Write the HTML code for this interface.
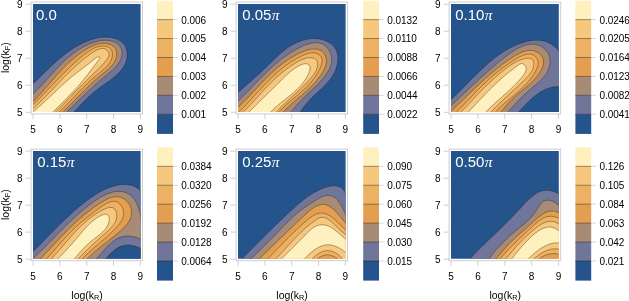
<!DOCTYPE html>
<html><head><meta charset="utf-8"><title>contours</title>
<style>html,body{margin:0;padding:0;background:#fff;}body{width:629px;height:301px;overflow:hidden;}svg{display:block;}text{font-family:"Liberation Sans",sans-serif;}svg{will-change:transform;}</style></head><body>
<svg width="629" height="301" viewBox="0 0 629 301">
<rect width="629" height="301" fill="#fff"/>
<defs>
<clipPath id="c1"><rect x="33" y="4" width="107.6" height="108"/></clipPath>
<clipPath id="c2"><rect x="238" y="4" width="107.6" height="108"/></clipPath>
<clipPath id="c3"><rect x="451" y="4" width="107.8" height="108"/></clipPath>
<clipPath id="c4"><rect x="33" y="151" width="107.6" height="107.8"/></clipPath>
<clipPath id="c5"><rect x="238" y="151" width="107.6" height="107.8"/></clipPath>
<clipPath id="c6"><rect x="451" y="151" width="107.8" height="107.8"/></clipPath>
</defs>
<g id="panel1">
<rect x="31.1" y="2.1" width="111.4" height="111.8" fill="#fff" stroke="#cdcdcd" stroke-width="1"/>
<g clip-path="url(#c1)">
<rect x="32" y="3" width="109.6" height="110" fill="#25548c"/>
<path d="M19.84 95.04C20.67 94.39 21.52 93.74 22.35 93.08C23.17 92.43 23.99 91.76 24.79 91.09C25.6 90.43 26.39 89.75 27.18 89.07C27.96 88.4 28.74 87.71 29.51 87.03C30.28 86.34 31.04 85.65 31.8 84.96C32.56 84.26 33.3 83.57 34.05 82.87C34.79 82.17 35.53 81.47 36.26 80.77C37 80.07 37.73 79.36 38.45 78.66C39.18 77.95 39.9 77.25 40.62 76.54C41.34 75.84 42.05 75.13 42.77 74.43C43.49 73.73 44.2 73.02 44.92 72.32C45.63 71.62 46.34 70.92 47.06 70.22C47.77 69.52 48.49 68.83 49.21 68.13C49.92 67.44 50.64 66.75 51.37 66.06C52.09 65.38 52.81 64.69 53.54 64.02C54.27 63.34 55.01 62.67 55.74 62C56.48 61.33 57.23 60.67 57.98 60.01C58.73 59.35 59.48 58.7 60.24 58.06C61.01 57.41 61.78 56.78 62.55 56.15C63.33 55.52 64.12 54.89 64.92 54.28C65.71 53.67 66.52 53.06 67.33 52.46C68.15 51.87 68.97 51.28 69.81 50.7C70.65 50.12 71.5 49.55 72.36 49C73.22 48.44 74.1 47.89 74.98 47.35C75.87 46.82 76.77 46.29 77.69 45.78C78.6 45.27 79.53 44.76 80.48 44.28C81.42 43.79 82.38 43.32 83.35 42.86C84.32 42.41 85.31 41.97 86.3 41.55C87.29 41.14 88.29 40.74 89.3 40.37C90.31 40.01 91.32 39.66 92.35 39.34C93.37 39.03 94.39 38.74 95.42 38.49C96.45 38.23 97.49 38.01 98.52 37.82C99.55 37.63 100.59 37.48 101.62 37.37C102.65 37.26 103.68 37.18 104.71 37.15C105.74 37.13 106.76 37.14 107.78 37.2C108.8 37.26 109.81 37.36 110.82 37.52C111.82 37.68 112.82 37.88 113.8 38.14C114.77 38.4 115.73 38.71 116.66 39.07C117.57 39.44 118.47 39.85 119.31 40.33C120.13 40.8 120.93 41.32 121.66 41.91C122.37 42.49 123.04 43.13 123.62 43.83C124.2 44.52 124.7 45.28 125.14 46.06C125.58 46.85 125.94 47.7 126.23 48.56C126.52 49.42 126.74 50.33 126.9 51.24C127.06 52.16 127.15 53.11 127.17 54.06C127.2 55.01 127.15 55.98 127.05 56.94C126.95 57.9 126.78 58.88 126.56 59.83C126.33 60.78 126.05 61.73 125.7 62.65C125.36 63.57 124.96 64.48 124.5 65.35C124.05 66.23 123.54 67.08 122.98 67.9C122.43 68.73 121.82 69.53 121.18 70.31C120.54 71.1 119.84 71.86 119.13 72.6C118.41 73.35 117.66 74.08 116.88 74.78C116.1 75.5 115.29 76.19 114.47 76.87C113.64 77.56 112.78 78.23 111.92 78.89C111.06 79.55 110.18 80.2 109.3 80.85C108.41 81.49 107.52 82.12 106.62 82.76C105.73 83.39 104.83 84.01 103.94 84.64C103.05 85.26 102.17 85.88 101.29 86.51C100.42 87.13 99.56 87.75 98.71 88.39C97.87 89.01 97.05 89.64 96.24 90.28C95.44 90.91 94.65 91.55 93.88 92.2C93.11 92.84 92.36 93.49 91.61 94.15C90.87 94.8 90.15 95.47 89.43 96.13C88.71 96.8 88 97.48 87.3 98.16C86.59 98.84 85.9 99.53 85.21 100.22C84.52 100.92 83.83 101.62 83.15 102.33C82.46 103.03 81.78 103.75 81.1 104.47C80.41 105.19 79.73 105.91 79.05 106.64C78.37 107.37 77.69 108.1 77 108.83C76.31 109.56 75.62 110.3 74.93 111.04C74.23 111.77 73.53 112.51 72.83 113.25C72.12 113.99 71.41 114.73 70.69 115.46C69.97 116.2 69.24 116.94 68.51 117.67C67.77 118.4 67.02 119.13 66.26 119.86C65.5 120.59 64.72 121.3 63.95 122.03L10 130Z" fill="#70769a" stroke="rgba(40,25,10,0.75)" stroke-width="0.5"/>
<path d="M19.7 104.83C20.57 104.22 21.46 103.63 22.32 103.01C23.17 102.39 24.02 101.76 24.85 101.12C25.68 100.48 26.49 99.83 27.3 99.16C28.1 98.5 28.89 97.83 29.68 97.15C30.46 96.47 31.23 95.78 31.99 95.08C32.75 94.38 33.5 93.68 34.24 92.96C34.98 92.25 35.72 91.53 36.44 90.81C37.17 90.08 37.89 89.35 38.6 88.61C39.31 87.88 40.02 87.14 40.72 86.39C41.42 85.65 42.11 84.9 42.8 84.15C43.49 83.4 44.18 82.65 44.87 81.89C45.55 81.14 46.23 80.38 46.91 79.63C47.59 78.87 48.27 78.11 48.94 77.35C49.62 76.6 50.3 75.84 50.98 75.09C51.65 74.33 52.33 73.58 53.01 72.83C53.69 72.08 54.37 71.33 55.06 70.58C55.74 69.84 56.43 69.1 57.12 68.36C57.81 67.63 58.51 66.89 59.21 66.17C59.91 65.44 60.61 64.72 61.33 64.01C62.04 63.29 62.76 62.59 63.48 61.89C64.21 61.19 64.95 60.5 65.69 59.81C66.43 59.13 67.18 58.46 67.94 57.79C68.71 57.13 69.48 56.48 70.26 55.83C71.04 55.19 71.84 54.56 72.64 53.94C73.45 53.32 74.27 52.71 75.1 52.11C75.93 51.52 76.78 50.93 77.64 50.37C78.5 49.8 79.37 49.24 80.26 48.71C81.15 48.17 82.06 47.64 82.98 47.13C83.9 46.62 84.84 46.13 85.8 45.66C86.76 45.18 87.73 44.72 88.72 44.29C89.71 43.86 90.71 43.45 91.72 43.07C92.73 42.69 93.76 42.34 94.78 42.02C95.81 41.71 96.84 41.42 97.88 41.19C98.91 40.95 99.95 40.75 100.98 40.6C102.01 40.45 103.04 40.35 104.07 40.3C105.09 40.25 106.11 40.25 107.12 40.32C108.13 40.38 109.13 40.5 110.11 40.69C111.09 40.88 112.06 41.13 112.99 41.45C113.91 41.76 114.82 42.14 115.66 42.6C116.48 43.04 117.28 43.55 117.99 44.14C118.67 44.72 119.32 45.37 119.84 46.08C120.37 46.78 120.8 47.58 121.13 48.39C121.46 49.22 121.69 50.11 121.84 51C121.98 51.91 122.03 52.86 121.99 53.79C121.96 54.73 121.82 55.7 121.62 56.63C121.41 57.58 121.12 58.52 120.75 59.42C120.38 60.33 119.93 61.22 119.42 62.07C118.91 62.93 118.32 63.76 117.69 64.57C117.06 65.38 116.37 66.17 115.65 66.94C114.92 67.71 114.15 68.46 113.37 69.2C112.58 69.95 111.75 70.67 110.92 71.39C110.09 72.11 109.24 72.81 108.4 73.51C107.55 74.22 106.7 74.91 105.86 75.61C105.03 76.3 104.2 76.99 103.38 77.68C102.56 78.37 101.76 79.06 100.95 79.75C100.16 80.43 99.36 81.12 98.58 81.8C97.79 82.48 97.02 83.17 96.25 83.85C95.48 84.53 94.72 85.21 93.96 85.89C93.2 86.57 92.45 87.25 91.71 87.93C90.96 88.61 90.22 89.29 89.49 89.97C88.75 90.65 88.02 91.33 87.29 92.01C86.57 92.69 85.85 93.37 85.13 94.05C84.41 94.74 83.69 95.42 82.98 96.11C82.26 96.79 81.55 97.48 80.84 98.17C80.13 98.86 79.42 99.55 78.71 100.24C78 100.94 77.3 101.63 76.59 102.33C75.88 103.03 75.17 103.73 74.47 104.43C73.76 105.14 73.05 105.85 72.34 106.56C71.63 107.27 70.92 107.98 70.2 108.7C69.49 109.42 68.77 110.14 68.05 110.87C67.33 111.6 66.61 112.33 65.88 113.06C65.16 113.8 64.43 114.54 63.69 115.28C62.96 116.03 62.22 116.78 61.47 117.54C60.73 118.3 59.98 119.06 59.22 119.82C58.46 120.6 57.7 121.37 56.94 122.15L10 130Z" fill="#a78b75" stroke="rgba(40,25,10,0.75)" stroke-width="0.5"/>
<path d="M19.74 113.21C20.58 112.56 21.44 111.93 22.27 111.27C23.1 110.62 23.91 109.96 24.72 109.28C25.52 108.61 26.31 107.93 27.09 107.25C27.87 106.56 28.64 105.87 29.4 105.17C30.15 104.47 30.9 103.76 31.64 103.05C32.37 102.34 33.1 101.62 33.82 100.9C34.54 100.18 35.25 99.45 35.95 98.72C36.66 97.99 37.35 97.25 38.04 96.51C38.73 95.77 39.41 95.03 40.09 94.28C40.77 93.54 41.44 92.79 42.11 92.03C42.78 91.28 43.44 90.53 44.1 89.77C44.76 89.02 45.42 88.26 46.08 87.5C46.73 86.74 47.39 85.98 48.04 85.22C48.69 84.46 49.34 83.7 50 82.94C50.65 82.18 51.3 81.43 51.95 80.67C52.61 79.91 53.26 79.15 53.92 78.4C54.58 77.64 55.23 76.89 55.9 76.14C56.56 75.39 57.22 74.64 57.89 73.9C58.56 73.15 59.24 72.41 59.92 71.67C60.6 70.93 61.28 70.2 61.97 69.47C62.67 68.74 63.36 68.01 64.07 67.29C64.78 66.57 65.49 65.86 66.21 65.15C66.93 64.44 67.66 63.74 68.4 63.04C69.14 62.35 69.89 61.65 70.65 60.97C71.42 60.29 72.19 59.61 72.97 58.95C73.75 58.28 74.55 57.62 75.36 56.97C76.17 56.32 76.99 55.68 77.82 55.05C78.66 54.41 79.51 53.79 80.37 53.18C81.23 52.56 82.11 51.96 83 51.37C83.9 50.77 84.81 50.19 85.74 49.63C86.66 49.06 87.6 48.51 88.55 47.99C89.5 47.48 90.46 46.98 91.43 46.52C92.39 46.07 93.37 45.64 94.35 45.26C95.32 44.89 96.31 44.55 97.29 44.27C98.27 44 99.26 43.76 100.25 43.6C101.22 43.44 102.21 43.33 103.18 43.3C104.15 43.27 105.13 43.3 106.09 43.42C107.05 43.54 108.02 43.74 108.94 44.02C109.86 44.31 110.79 44.67 111.63 45.13C112.46 45.57 113.27 46.1 113.94 46.73C114.59 47.33 115.19 48.04 115.62 48.81C116.06 49.57 116.37 50.44 116.57 51.31C116.77 52.2 116.84 53.15 116.83 54.08C116.81 55.03 116.68 56.01 116.47 56.96C116.26 57.91 115.95 58.86 115.57 59.77C115.19 60.68 114.72 61.56 114.2 62.41C113.67 63.26 113.07 64.07 112.43 64.86C111.79 65.66 111.08 66.43 110.35 67.17C109.62 67.93 108.84 68.65 108.04 69.37C107.25 70.09 106.41 70.79 105.58 71.48C104.75 72.18 103.89 72.86 103.04 73.55C102.2 74.23 101.35 74.91 100.51 75.59C99.68 76.28 98.86 76.96 98.05 77.65C97.25 78.34 96.45 79.03 95.66 79.72C94.88 80.41 94.1 81.11 93.33 81.8C92.57 82.5 91.81 83.2 91.07 83.9C90.32 84.59 89.58 85.29 88.85 86C88.12 86.7 87.39 87.4 86.67 88.11C85.95 88.81 85.24 89.52 84.53 90.22C83.82 90.93 83.12 91.64 82.42 92.34C81.72 93.05 81.02 93.76 80.33 94.47C79.63 95.18 78.94 95.89 78.25 96.6C77.56 97.31 76.87 98.02 76.18 98.73C75.49 99.44 74.8 100.15 74.11 100.86C73.42 101.57 72.73 102.28 72.03 102.99C71.34 103.71 70.64 104.42 69.94 105.12C69.24 105.84 68.54 106.55 67.83 107.25C67.12 107.96 66.4 108.67 65.68 109.38C64.96 110.09 64.24 110.79 63.5 111.5C62.77 112.2 62.03 112.91 61.28 113.61C60.53 114.32 59.77 115.02 59.01 115.72C58.24 116.42 57.46 117.12 56.67 117.82C55.88 118.52 55.08 119.21 54.27 119.9C53.46 120.6 52.63 121.29 51.8 121.98L10 130Z" fill="#e39f4f" stroke="rgba(40,25,10,0.75)" stroke-width="0.5"/>
<path d="M19.78 116.5C20.6 115.82 21.42 115.14 22.23 114.46C23.04 113.78 23.84 113.09 24.63 112.4C25.42 111.72 26.2 111.03 26.97 110.33C27.75 109.64 28.51 108.94 29.27 108.24C30.03 107.55 30.78 106.84 31.53 106.14C32.27 105.44 33.01 104.73 33.75 104.02C34.48 103.32 35.21 102.61 35.93 101.9C36.65 101.19 37.37 100.47 38.09 99.76C38.8 99.04 39.51 98.33 40.22 97.61C40.92 96.89 41.62 96.18 42.33 95.46C43.02 94.74 43.72 94.02 44.42 93.29C45.11 92.57 45.8 91.85 46.49 91.13C47.18 90.41 47.87 89.68 48.56 88.96C49.25 88.24 49.94 87.51 50.63 86.79C51.31 86.07 52 85.34 52.69 84.62C53.38 83.9 54.06 83.17 54.75 82.45C55.44 81.73 56.13 81 56.83 80.28C57.52 79.56 58.21 78.84 58.91 78.12C59.61 77.4 60.31 76.68 61.01 75.96C61.71 75.24 62.42 74.52 63.13 73.81C63.84 73.09 64.55 72.38 65.27 71.66C65.99 70.95 66.72 70.24 67.44 69.53C68.17 68.82 68.91 68.11 69.65 67.4C70.39 66.7 71.13 65.99 71.88 65.29C72.64 64.59 73.4 63.89 74.16 63.2C74.93 62.5 75.71 61.8 76.49 61.11C77.27 60.42 78.06 59.73 78.86 59.05C79.66 58.36 80.47 57.68 81.28 57C82.1 56.32 82.93 55.64 83.76 54.97C84.6 54.3 85.44 53.62 86.3 52.98C87.16 52.34 88.02 51.7 88.91 51.1C89.79 50.51 90.67 49.93 91.58 49.41C92.48 48.89 93.4 48.4 94.33 47.97C95.26 47.55 96.2 47.17 97.16 46.88C98.11 46.58 99.09 46.34 100.07 46.19C101.05 46.04 102.07 45.97 103.07 45.99C104.06 46.02 105.09 46.12 106.04 46.34C106.97 46.56 107.91 46.85 108.71 47.29C109.47 47.7 110.19 48.23 110.74 48.86C111.28 49.48 111.69 50.23 111.98 51.01C112.27 51.8 112.42 52.68 112.48 53.55C112.55 54.45 112.48 55.4 112.33 56.32C112.18 57.25 111.92 58.2 111.59 59.1C111.26 60.02 110.83 60.9 110.34 61.76C109.85 62.62 109.28 63.44 108.66 64.24C108.04 65.05 107.35 65.82 106.64 66.58C105.91 67.34 105.14 68.08 104.35 68.8C103.56 69.54 102.72 70.25 101.89 70.95C101.05 71.66 100.19 72.35 99.33 73.05C98.48 73.74 97.62 74.43 96.77 75.13C95.93 75.82 95.1 76.51 94.28 77.21C93.46 77.9 92.66 78.6 91.87 79.3C91.08 80 90.3 80.7 89.53 81.41C88.76 82.11 88.01 82.81 87.25 83.52C86.51 84.22 85.77 84.93 85.04 85.64C84.31 86.35 83.59 87.06 82.87 87.77C82.16 88.48 81.45 89.2 80.75 89.91C80.05 90.62 79.35 91.34 78.66 92.05C77.97 92.77 77.28 93.48 76.59 94.2C75.9 94.91 75.22 95.63 74.54 96.35C73.86 97.07 73.18 97.78 72.5 98.5C71.82 99.22 71.14 99.94 70.46 100.65C69.78 101.37 69.09 102.09 68.41 102.8C67.72 103.52 67.04 104.24 66.34 104.96C65.65 105.67 64.96 106.39 64.26 107.1C63.55 107.82 62.85 108.54 62.14 109.25C61.42 109.96 60.7 110.68 59.97 111.39C59.24 112.1 58.51 112.81 57.76 113.52C57.02 114.23 56.26 114.94 55.5 115.65C54.73 116.36 53.95 117.07 53.17 117.77C52.37 118.47 51.57 119.18 50.76 119.88C49.94 120.58 49.11 121.28 48.28 121.98L10 130Z" fill="#edb163" stroke="rgba(40,25,10,0.75)" stroke-width="0.5"/>
<path d="M19.66 119.47C20.54 118.82 21.42 118.18 22.28 117.52C23.13 116.87 23.98 116.21 24.81 115.55C25.65 114.89 26.47 114.22 27.28 113.55C28.09 112.88 28.89 112.21 29.69 111.53C30.48 110.86 31.26 110.18 32.03 109.5C32.8 108.82 33.57 108.13 34.33 107.44C35.08 106.75 35.83 106.06 36.57 105.37C37.31 104.68 38.04 103.98 38.77 103.28C39.5 102.58 40.22 101.88 40.93 101.18C41.65 100.48 42.36 99.78 43.06 99.07C43.77 98.36 44.47 97.65 45.17 96.95C45.86 96.24 46.56 95.53 47.25 94.81C47.94 94.1 48.63 93.39 49.31 92.67C50 91.96 50.68 91.24 51.37 90.53C52.05 89.81 52.73 89.09 53.41 88.38C54.1 87.66 54.78 86.94 55.46 86.22C56.14 85.5 56.83 84.78 57.51 84.07C58.2 83.35 58.88 82.63 59.57 81.91C60.26 81.19 60.95 80.47 61.65 79.75C62.34 79.04 63.04 78.32 63.74 77.6C64.44 76.88 65.15 76.17 65.86 75.45C66.58 74.74 67.29 74.02 68.01 73.31C68.74 72.6 69.47 71.89 70.2 71.18C70.94 70.47 71.68 69.76 72.43 69.05C73.18 68.34 73.94 67.64 74.71 66.94C75.47 66.23 76.25 65.53 77.03 64.83C77.82 64.13 78.61 63.43 79.42 62.74C80.22 62.04 81.04 61.35 81.86 60.66C82.69 59.97 83.53 59.29 84.38 58.6C85.23 57.92 86.09 57.24 86.96 56.56C87.84 55.88 88.73 55.2 89.63 54.54C90.53 53.88 91.43 53.22 92.35 52.6C93.25 52 94.17 51.4 95.09 50.88C95.98 50.38 96.88 49.89 97.79 49.51C98.65 49.15 99.53 48.83 100.4 48.65C101.23 48.47 102.07 48.36 102.88 48.41C103.66 48.47 104.45 48.63 105.17 48.95C105.91 49.29 106.64 49.8 107.23 50.41C107.86 51.06 108.49 51.9 108.8 52.76C109.11 53.61 109.26 54.64 109.11 55.55C108.94 56.51 108.32 57.47 107.76 58.37C107.18 59.32 106.39 60.2 105.67 61.07C104.97 61.94 104.24 62.77 103.52 63.59C102.8 64.4 102.08 65.18 101.35 65.95C100.63 66.72 99.9 67.46 99.17 68.2C98.45 68.93 97.72 69.64 96.99 70.35C96.26 71.06 95.53 71.76 94.81 72.45C94.08 73.15 93.35 73.84 92.63 74.54C91.9 75.23 91.18 75.93 90.46 76.63C89.73 77.33 89.01 78.04 88.3 78.74C87.58 79.45 86.86 80.16 86.14 80.88C85.42 81.59 84.71 82.31 83.99 83.03C83.27 83.75 82.56 84.47 81.85 85.19C81.13 85.91 80.42 86.64 79.7 87.37C78.99 88.1 78.28 88.82 77.57 89.55C76.85 90.29 76.14 91.02 75.43 91.75C74.72 92.48 74 93.22 73.29 93.95C72.58 94.68 71.87 95.42 71.15 96.15C70.44 96.89 69.73 97.62 69.01 98.36C68.3 99.09 67.58 99.82 66.87 100.56C66.15 101.29 65.44 102.02 64.72 102.75C64 103.49 63.29 104.22 62.57 104.95C61.85 105.67 61.13 106.4 60.41 107.13C59.68 107.85 58.96 108.58 58.24 109.3C57.51 110.02 56.79 110.74 56.06 111.46C55.33 112.17 54.6 112.89 53.87 113.6C53.14 114.31 52.4 115.02 51.67 115.72C50.93 116.43 50.2 117.13 49.45 117.83C48.71 118.53 47.97 119.22 47.23 119.91C46.48 120.6 45.73 121.28 44.98 121.97L10 130Z" fill="#f5c87d" stroke="rgba(40,25,10,0.75)" stroke-width="0.5"/>
<path d="M18.92 122.29C19.78 121.73 20.63 121.19 21.48 120.62C22.32 120.05 23.16 119.47 23.99 118.88C24.82 118.29 25.64 117.7 26.45 117.09C27.27 116.49 28.08 115.87 28.88 115.25C29.69 114.63 30.48 114 31.28 113.36C32.07 112.72 32.86 112.08 33.64 111.43C34.42 110.78 35.2 110.12 35.97 109.46C36.74 108.8 37.51 108.13 38.28 107.46C39.04 106.79 39.8 106.11 40.56 105.43C41.32 104.75 42.08 104.06 42.83 103.38C43.58 102.69 44.33 102 45.08 101.3C45.83 100.61 46.57 99.91 47.32 99.21C48.06 98.52 48.8 97.82 49.55 97.12C50.29 96.42 51.03 95.72 51.77 95.01C52.51 94.31 53.25 93.61 53.99 92.91C54.73 92.21 55.47 91.51 56.21 90.81C56.95 90.11 57.69 89.41 58.43 88.72C59.17 88.02 59.92 87.33 60.66 86.64C61.41 85.95 62.15 85.26 62.9 84.58C63.65 83.89 64.4 83.21 65.16 82.54C65.91 81.86 66.67 81.19 67.43 80.52C68.19 79.86 68.95 79.19 69.72 78.54C70.48 77.89 71.25 77.24 72.03 76.59C72.8 75.95 73.58 75.32 74.37 74.69C75.15 74.06 75.94 73.44 76.74 72.82C77.53 72.2 78.33 71.59 79.13 70.97C79.93 70.36 80.73 69.75 81.54 69.14C82.35 68.53 83.16 67.92 83.97 67.31C84.78 66.69 85.6 66.07 86.41 65.45C87.23 64.83 88.05 64.2 88.87 63.57C89.69 62.93 90.52 62.29 91.34 61.64C92.16 60.99 92.97 60.3 93.81 59.66C94.64 59.02 95.45 58.27 96.34 57.79C97.17 57.34 98.38 56.64 98.97 56.82C99.41 56.96 99.83 57.56 99.83 58.05C99.84 58.74 98.74 59.74 98.14 60.59C97.5 61.48 96.77 62.37 96.1 63.25C95.45 64.11 94.81 64.97 94.18 65.83C93.56 66.67 92.95 67.51 92.34 68.34C91.74 69.17 91.14 69.98 90.54 70.8C89.95 71.61 89.36 72.41 88.76 73.21C88.16 74.01 87.56 74.8 86.95 75.59C86.34 76.38 85.72 77.16 85.1 77.94C84.47 78.72 83.84 79.5 83.2 80.27C82.56 81.04 81.91 81.81 81.25 82.58C80.6 83.35 79.94 84.11 79.27 84.87C78.6 85.63 77.93 86.38 77.25 87.14C76.58 87.89 75.89 88.64 75.2 89.39C74.52 90.13 73.82 90.88 73.12 91.62C72.43 92.36 71.73 93.1 71.02 93.84C70.32 94.58 69.61 95.31 68.89 96.05C68.18 96.78 67.47 97.51 66.75 98.24C66.03 98.97 65.31 99.7 64.59 100.43C63.87 101.15 63.15 101.88 62.42 102.6C61.7 103.32 60.97 104.04 60.25 104.76C59.52 105.49 58.79 106.2 58.07 106.92C57.34 107.64 56.61 108.36 55.88 109.08C55.16 109.79 54.43 110.51 53.71 111.23C52.98 111.94 52.26 112.66 51.54 113.37C50.81 114.09 50.09 114.8 49.38 115.52C48.66 116.23 47.94 116.95 47.23 117.66C46.52 118.38 45.81 119.09 45.1 119.81C44.39 120.52 43.69 121.24 42.99 121.95L10 130Z" fill="#fff0c0" stroke="rgba(40,25,10,0.75)" stroke-width="0.5"/>
</g>
<text x="36" y="19.9" font-size="15" fill="#fff">0.0</text>
<line x1="33.1" y1="113.9" x2="33.1" y2="118.9" stroke="#cfcfcf" stroke-width="1"/>
<text x="33.1" y="132.7" font-size="10" fill="#000" text-anchor="middle">5</text>
<line x1="25.6" y1="112.3" x2="31.1" y2="112.3" stroke="#cfcfcf" stroke-width="1"/>
<text x="22.5" y="116.4" font-size="10" fill="#000" text-anchor="end">5</text>
<line x1="59.9" y1="113.9" x2="59.9" y2="118.9" stroke="#cfcfcf" stroke-width="1"/>
<text x="59.9" y="132.7" font-size="10" fill="#000" text-anchor="middle">6</text>
<line x1="25.6" y1="85.28" x2="31.1" y2="85.28" stroke="#cfcfcf" stroke-width="1"/>
<text x="22.5" y="89.38" font-size="10" fill="#000" text-anchor="end">6</text>
<line x1="86.7" y1="113.9" x2="86.7" y2="118.9" stroke="#cfcfcf" stroke-width="1"/>
<text x="86.7" y="132.7" font-size="10" fill="#000" text-anchor="middle">7</text>
<line x1="25.6" y1="58.25" x2="31.1" y2="58.25" stroke="#cfcfcf" stroke-width="1"/>
<text x="22.5" y="62.35" font-size="10" fill="#000" text-anchor="end">7</text>
<line x1="113.5" y1="113.9" x2="113.5" y2="118.9" stroke="#cfcfcf" stroke-width="1"/>
<text x="113.5" y="132.7" font-size="10" fill="#000" text-anchor="middle">8</text>
<line x1="25.6" y1="31.23" x2="31.1" y2="31.23" stroke="#cfcfcf" stroke-width="1"/>
<text x="22.5" y="35.33" font-size="10" fill="#000" text-anchor="end">8</text>
<line x1="140.3" y1="113.9" x2="140.3" y2="118.9" stroke="#cfcfcf" stroke-width="1"/>
<text x="140.3" y="132.7" font-size="10" fill="#000" text-anchor="middle">9</text>
<line x1="25.6" y1="4.2" x2="31.1" y2="4.2" stroke="#cfcfcf" stroke-width="1"/>
<text x="22.5" y="8.3" font-size="10" fill="#000" text-anchor="end">9</text>
<rect x="157" y="0.7" width="16" height="19.23" fill="#fff0c0"/>
<rect x="157" y="19.63" width="16" height="19.23" fill="#f5c87d"/>
<rect x="157" y="38.56" width="16" height="19.23" fill="#edb163"/>
<rect x="157" y="57.49" width="16" height="19.23" fill="#e39f4f"/>
<rect x="157" y="76.42" width="16" height="19.23" fill="#a78b75"/>
<rect x="157" y="95.35" width="16" height="19.23" fill="#70769a"/>
<rect x="157" y="114.28" width="16" height="19.63" fill="#25548c"/>
<line x1="173" y1="19.63" x2="177.8" y2="19.63" stroke="#d9d9d9" stroke-width="1"/>
<line x1="157" y1="19.63" x2="173" y2="19.63" stroke="rgba(40,25,10,0.75)" stroke-width="0.6"/>
<text x="181.2" y="23.53" font-size="10" fill="#000" letter-spacing="-0.05">0.006</text>
<line x1="173" y1="38.56" x2="177.8" y2="38.56" stroke="#d9d9d9" stroke-width="1"/>
<line x1="157" y1="38.56" x2="173" y2="38.56" stroke="rgba(40,25,10,0.75)" stroke-width="0.6"/>
<text x="181.2" y="42.46" font-size="10" fill="#000" letter-spacing="-0.05">0.005</text>
<line x1="173" y1="57.49" x2="177.8" y2="57.49" stroke="#d9d9d9" stroke-width="1"/>
<line x1="157" y1="57.49" x2="173" y2="57.49" stroke="rgba(40,25,10,0.75)" stroke-width="0.6"/>
<text x="181.2" y="61.39" font-size="10" fill="#000" letter-spacing="-0.05">0.004</text>
<line x1="173" y1="76.42" x2="177.8" y2="76.42" stroke="#d9d9d9" stroke-width="1"/>
<line x1="157" y1="76.42" x2="173" y2="76.42" stroke="rgba(40,25,10,0.75)" stroke-width="0.6"/>
<text x="181.2" y="80.32" font-size="10" fill="#000" letter-spacing="-0.05">0.003</text>
<line x1="173" y1="95.35" x2="177.8" y2="95.35" stroke="#d9d9d9" stroke-width="1"/>
<line x1="157" y1="95.35" x2="173" y2="95.35" stroke="rgba(40,25,10,0.75)" stroke-width="0.6"/>
<text x="181.2" y="99.25" font-size="10" fill="#000" letter-spacing="-0.05">0.002</text>
<line x1="173" y1="114.28" x2="177.8" y2="114.28" stroke="#d9d9d9" stroke-width="1"/>
<line x1="157" y1="114.28" x2="173" y2="114.28" stroke="rgba(40,25,10,0.75)" stroke-width="0.6"/>
<text x="181.2" y="118.18" font-size="10" fill="#000" letter-spacing="-0.05">0.001</text>
<text transform="translate(8.6 57.7) rotate(-90)" font-size="10.5" fill="#000" text-anchor="middle">log(k<tspan font-size="7.3" dy="1.1">F</tspan><tspan dy="-1.1">)</tspan></text>
</g>
<g id="panel2">
<rect x="236.1" y="2.1" width="111.4" height="111.8" fill="#fff" stroke="#cdcdcd" stroke-width="1"/>
<g clip-path="url(#c2)">
<rect x="237" y="3" width="109.6" height="110" fill="#25548c"/>
<path d="M225.49 103.99C226.23 103.29 226.96 102.59 227.7 101.89C228.44 101.2 229.19 100.5 229.94 99.81C230.69 99.12 231.44 98.43 232.19 97.74C232.95 97.06 233.7 96.37 234.46 95.69C235.22 95 235.98 94.32 236.75 93.64C237.51 92.95 238.27 92.27 239.04 91.59C239.81 90.91 240.58 90.23 241.34 89.55C242.11 88.88 242.88 88.2 243.65 87.52C244.42 86.84 245.19 86.16 245.96 85.49C246.74 84.81 247.51 84.13 248.28 83.45C249.05 82.78 249.82 82.1 250.59 81.42C251.35 80.74 252.12 80.06 252.89 79.38C253.66 78.7 254.42 78.02 255.18 77.34C255.95 76.65 256.71 75.97 257.47 75.29C258.23 74.6 258.98 73.91 259.74 73.23C260.49 72.54 261.24 71.85 261.99 71.16C262.74 70.46 263.48 69.77 264.23 69.07C264.97 68.38 265.7 67.68 266.44 66.98C267.17 66.28 267.9 65.57 268.62 64.86C269.35 64.16 270.07 63.45 270.79 62.74C271.51 62.03 272.22 61.32 272.94 60.61C273.66 59.9 274.38 59.2 275.1 58.5C275.82 57.79 276.55 57.1 277.28 56.41C278.02 55.72 278.75 55.03 279.5 54.36C280.25 53.68 281.01 53.02 281.78 52.36C282.55 51.71 283.33 51.06 284.12 50.44C284.92 49.81 285.73 49.19 286.55 48.59C287.38 47.99 288.23 47.41 289.09 46.85C289.95 46.28 290.84 45.73 291.74 45.21C292.64 44.68 293.57 44.18 294.51 43.7C295.45 43.22 296.42 42.76 297.39 42.34C298.37 41.91 299.36 41.51 300.36 41.15C301.36 40.79 302.38 40.45 303.4 40.16C304.42 39.86 305.46 39.6 306.49 39.38C307.53 39.16 308.57 38.98 309.62 38.85C310.66 38.71 311.72 38.62 312.76 38.58C313.81 38.54 314.86 38.54 315.91 38.59C316.95 38.65 318 38.76 319.03 38.92C320.06 39.08 321.09 39.3 322.1 39.56C323.1 39.83 324.1 40.15 325.06 40.52C326.01 40.89 326.94 41.3 327.83 41.77C328.71 42.24 329.57 42.75 330.36 43.31C331.15 43.87 331.9 44.47 332.59 45.12C333.26 45.76 333.88 46.45 334.43 47.19C334.97 47.91 335.45 48.69 335.86 49.49C336.27 50.29 336.61 51.14 336.89 51.99C337.18 52.86 337.39 53.76 337.55 54.66C337.71 55.58 337.8 56.52 337.84 57.46C337.88 58.41 337.86 59.38 337.79 60.34C337.73 61.32 337.6 62.3 337.43 63.28C337.26 64.26 337.03 65.25 336.76 66.23C336.5 67.21 336.18 68.19 335.82 69.15C335.46 70.12 335.06 71.08 334.62 72.02C334.18 72.96 333.7 73.89 333.18 74.79C332.67 75.69 332.11 76.57 331.53 77.43C330.95 78.29 330.33 79.12 329.68 79.94C329.04 80.76 328.37 81.56 327.68 82.34C326.99 83.13 326.28 83.9 325.55 84.66C324.83 85.42 324.08 86.16 323.33 86.9C322.58 87.64 321.81 88.36 321.04 89.09C320.27 89.81 319.5 90.53 318.72 91.24C317.95 91.96 317.17 92.67 316.4 93.38C315.63 94.1 314.86 94.81 314.1 95.53C313.35 96.24 312.59 96.96 311.86 97.69C311.13 98.42 310.41 99.15 309.72 99.89C309.02 100.64 308.34 101.39 307.68 102.15C307.03 102.92 306.39 103.69 305.76 104.47C305.13 105.25 304.53 106.05 303.93 106.85C303.33 107.65 302.75 108.46 302.18 109.28C301.6 110.09 301.04 110.92 300.49 111.76C299.93 112.6 299.39 113.44 298.85 114.29C298.31 115.15 297.78 116.01 297.25 116.88C296.72 117.75 296.19 118.63 295.67 119.52C295.14 120.41 294.62 121.31 294.1 122.21L215 130Z" fill="#70769a" stroke="rgba(40,25,10,0.75)" stroke-width="0.5"/>
<path d="M225.05 111.88C225.9 111.23 226.77 110.59 227.61 109.94C228.45 109.28 229.29 108.62 230.11 107.95C230.93 107.28 231.74 106.61 232.54 105.93C233.34 105.26 234.13 104.57 234.91 103.88C235.69 103.2 236.46 102.5 237.22 101.81C237.99 101.11 238.74 100.41 239.49 99.71C240.24 99 240.98 98.3 241.72 97.58C242.45 96.88 243.18 96.16 243.9 95.45C244.62 94.73 245.34 94.01 246.06 93.29C246.77 92.57 247.48 91.85 248.18 91.13C248.89 90.41 249.59 89.68 250.29 88.96C250.99 88.24 251.69 87.51 252.39 86.78C253.08 86.06 253.77 85.33 254.47 84.61C255.16 83.88 255.85 83.16 256.55 82.43C257.24 81.71 257.93 80.99 258.63 80.27C259.32 79.55 260.02 78.83 260.72 78.11C261.42 77.39 262.12 76.67 262.82 75.96C263.52 75.25 264.23 74.54 264.94 73.83C265.65 73.12 266.37 72.42 267.09 71.72C267.81 71.01 268.53 70.32 269.26 69.62C269.99 68.93 270.73 68.24 271.47 67.56C272.21 66.87 272.96 66.19 273.72 65.52C274.48 64.85 275.24 64.18 276.02 63.52C276.79 62.85 277.58 62.2 278.37 61.55C279.16 60.89 279.96 60.25 280.77 59.61C281.59 58.98 282.41 58.34 283.25 57.72C284.08 57.1 284.93 56.48 285.79 55.88C286.65 55.27 287.52 54.67 288.4 54.08C289.29 53.49 290.18 52.9 291.09 52.33C292.01 51.76 292.94 51.19 293.87 50.64C294.82 50.09 295.78 49.54 296.74 49.01C297.71 48.48 298.69 47.97 299.68 47.48C300.67 46.99 301.66 46.52 302.66 46.08C303.66 45.65 304.66 45.24 305.66 44.87C306.65 44.51 307.64 44.17 308.64 43.89C309.62 43.61 310.6 43.36 311.58 43.18C312.54 43 313.5 42.86 314.45 42.79C315.38 42.73 316.31 42.71 317.22 42.77C318.11 42.83 319 42.95 319.86 43.15C320.72 43.36 321.56 43.63 322.35 43.99C323.16 44.36 323.94 44.81 324.66 45.33C325.41 45.87 326.11 46.51 326.76 47.2C327.42 47.91 328.03 48.7 328.58 49.53C329.13 50.37 329.63 51.27 330.06 52.2C330.48 53.13 330.85 54.12 331.12 55.11C331.4 56.1 331.6 57.12 331.7 58.14C331.81 59.15 331.82 60.17 331.74 61.18C331.66 62.18 331.47 63.19 331.23 64.17C330.98 65.15 330.64 66.13 330.25 67.08C329.87 68.04 329.4 68.99 328.91 69.91C328.42 70.84 327.86 71.75 327.29 72.65C326.72 73.54 326.11 74.41 325.48 75.27C324.87 76.12 324.22 76.95 323.57 77.77C322.92 78.58 322.25 79.37 321.57 80.16C320.89 80.94 320.2 81.7 319.5 82.45C318.8 83.2 318.09 83.94 317.37 84.67C316.66 85.4 315.93 86.12 315.21 86.83C314.48 87.54 313.74 88.24 313.01 88.95C312.27 89.65 311.53 90.34 310.79 91.04C310.06 91.73 309.31 92.42 308.58 93.11C307.84 93.81 307.1 94.5 306.37 95.2C305.64 95.9 304.9 96.6 304.18 97.31C303.46 98.02 302.74 98.74 302.03 99.46C301.32 100.19 300.62 100.93 299.92 101.67C299.22 102.41 298.54 103.16 297.85 103.92C297.16 104.67 296.48 105.43 295.8 106.2C295.12 106.96 294.44 107.73 293.77 108.5C293.09 109.26 292.41 110.03 291.73 110.8C291.05 111.57 290.37 112.34 289.69 113.1C289 113.87 288.32 114.63 287.62 115.38C286.93 116.14 286.23 116.89 285.52 117.63C284.82 118.38 284.1 119.11 283.38 119.84C282.65 120.57 281.91 121.27 281.18 121.99L215 130Z" fill="#a78b75" stroke="rgba(40,25,10,0.75)" stroke-width="0.5"/>
<path d="M225.12 117.36C226 116.74 226.89 116.13 227.76 115.5C228.63 114.87 229.48 114.24 230.32 113.59C231.16 112.95 231.98 112.29 232.8 111.63C233.61 110.97 234.41 110.31 235.21 109.63C236 108.96 236.78 108.28 237.55 107.59C238.32 106.91 239.08 106.22 239.84 105.52C240.59 104.82 241.33 104.12 242.07 103.41C242.81 102.71 243.53 102 244.26 101.28C244.98 100.57 245.69 99.85 246.4 99.13C247.11 98.41 247.82 97.68 248.52 96.95C249.22 96.23 249.91 95.5 250.61 94.77C251.3 94.04 251.99 93.31 252.68 92.57C253.36 91.84 254.05 91.11 254.73 90.37C255.41 89.64 256.1 88.9 256.78 88.17C257.46 87.44 258.14 86.7 258.83 85.97C259.51 85.24 260.19 84.51 260.88 83.78C261.56 83.05 262.25 82.32 262.94 81.6C263.63 80.87 264.33 80.15 265.03 79.43C265.73 78.71 266.43 78 267.13 77.29C267.84 76.58 268.56 75.87 269.27 75.17C269.99 74.46 270.72 73.77 271.45 73.07C272.19 72.38 272.93 71.69 273.67 71.01C274.42 70.33 275.18 69.66 275.95 68.99C276.71 68.32 277.49 67.66 278.28 67.01C279.06 66.35 279.86 65.7 280.67 65.07C281.48 64.43 282.3 63.8 283.13 63.18C283.97 62.56 284.81 61.94 285.67 61.34C286.54 60.74 287.41 60.14 288.3 59.56C289.19 58.98 290.09 58.41 291.01 57.85C291.93 57.28 292.87 56.73 293.82 56.2C294.77 55.66 295.74 55.13 296.73 54.62C297.72 54.1 298.72 53.6 299.74 53.12C300.75 52.64 301.78 52.18 302.81 51.76C303.84 51.34 304.87 50.94 305.91 50.59C306.92 50.25 307.95 49.94 308.97 49.7C309.96 49.46 310.97 49.25 311.95 49.13C312.91 49.01 313.87 48.94 314.81 48.96C315.72 48.98 316.63 49.06 317.5 49.25C318.34 49.43 319.18 49.69 319.96 50.06C320.73 50.44 321.48 50.91 322.15 51.47C322.83 52.04 323.46 52.73 324 53.46C324.55 54.2 325.04 55.04 325.42 55.89C325.8 56.76 326.1 57.68 326.28 58.61C326.46 59.54 326.52 60.52 326.49 61.47C326.45 62.44 326.29 63.42 326.07 64.38C325.85 65.36 325.51 66.34 325.14 67.3C324.76 68.28 324.3 69.25 323.81 70.2C323.31 71.16 322.75 72.1 322.18 73.03C321.6 73.95 320.99 74.86 320.36 75.75C319.74 76.63 319.1 77.49 318.45 78.34C317.8 79.18 317.13 80 316.45 80.8C315.77 81.61 315.08 82.39 314.38 83.16C313.68 83.93 312.97 84.68 312.24 85.42C311.53 86.16 310.79 86.88 310.06 87.6C309.32 88.31 308.58 89.01 307.83 89.7C307.08 90.4 306.32 91.08 305.56 91.76C304.8 92.43 304.04 93.1 303.27 93.77C302.5 94.43 301.73 95.09 300.96 95.75C300.19 96.41 299.42 97.06 298.65 97.71C297.88 98.37 297.11 99.02 296.34 99.68C295.57 100.34 294.8 101 294.04 101.66C293.28 102.32 292.52 102.99 291.77 103.66C291.02 104.34 290.27 105.02 289.53 105.71C288.78 106.4 288.05 107.1 287.32 107.81C286.6 108.52 285.88 109.24 285.17 109.97C284.47 110.71 283.77 111.46 283.08 112.22C282.4 112.99 281.72 113.77 281.06 114.56C280.4 115.36 279.75 116.18 279.12 117.01C278.49 117.85 277.87 118.71 277.27 119.58C276.67 120.47 276.1 121.39 275.51 122.29L215 130Z" fill="#e39f4f" stroke="rgba(40,25,10,0.75)" stroke-width="0.5"/>
<path d="M228.34 122.05C229.15 121.35 229.96 120.66 230.76 119.95C231.55 119.25 232.34 118.54 233.12 117.83C233.89 117.11 234.66 116.4 235.42 115.67C236.18 114.95 236.93 114.23 237.68 113.5C238.42 112.77 239.15 112.04 239.89 111.3C240.61 110.57 241.34 109.83 242.06 109.09C242.77 108.35 243.48 107.6 244.19 106.86C244.9 106.12 245.6 105.37 246.3 104.62C247 103.87 247.69 103.12 248.39 102.37C249.08 101.63 249.76 100.88 250.45 100.12C251.14 99.37 251.82 98.62 252.5 97.87C253.19 97.12 253.87 96.37 254.55 95.62C255.23 94.87 255.91 94.13 256.59 93.38C257.27 92.63 257.95 91.89 258.63 91.14C259.32 90.4 260 89.66 260.68 88.92C261.37 88.18 262.06 87.44 262.75 86.71C263.44 85.98 264.13 85.24 264.83 84.52C265.53 83.79 266.23 83.07 266.93 82.35C267.64 81.63 268.35 80.91 269.06 80.2C269.78 79.49 270.5 78.78 271.23 78.08C271.96 77.38 272.69 76.68 273.43 75.99C274.17 75.3 274.92 74.62 275.68 73.94C276.43 73.26 277.2 72.59 277.97 71.92C278.75 71.26 279.53 70.6 280.32 69.95C281.11 69.3 281.92 68.65 282.73 68.01C283.54 67.38 284.36 66.75 285.2 66.13C286.04 65.51 286.88 64.89 287.74 64.29C288.6 63.69 289.47 63.09 290.35 62.51C291.24 61.92 292.14 61.35 293.05 60.78C293.96 60.22 294.89 59.66 295.82 59.12C296.77 58.57 297.73 58.03 298.69 57.51C299.67 56.99 300.65 56.47 301.65 55.99C302.64 55.51 303.65 55.04 304.67 54.63C305.67 54.23 306.68 53.86 307.7 53.57C308.69 53.29 309.7 53.05 310.7 52.92C311.68 52.8 312.67 52.74 313.63 52.81C314.57 52.88 315.54 53.06 316.42 53.34C317.29 53.62 318.16 54.01 318.88 54.49C319.58 54.96 320.24 55.53 320.72 56.18C321.19 56.8 321.54 57.54 321.76 58.3C321.99 59.07 322.05 59.93 322.05 60.77C322.05 61.66 321.9 62.58 321.71 63.5C321.51 64.46 321.2 65.44 320.85 66.41C320.49 67.41 320.04 68.41 319.57 69.4C319.09 70.4 318.54 71.4 317.98 72.38C317.42 73.36 316.81 74.33 316.19 75.27C315.58 76.2 314.95 77.12 314.3 78C313.66 78.88 312.99 79.74 312.32 80.57C311.65 81.4 310.96 82.21 310.26 83C309.57 83.79 308.86 84.55 308.14 85.3C307.43 86.05 306.7 86.78 305.97 87.5C305.24 88.21 304.49 88.91 303.75 89.6C303 90.29 302.25 90.96 301.49 91.63C300.74 92.3 299.97 92.96 299.21 93.61C298.45 94.26 297.68 94.91 296.91 95.55C296.14 96.2 295.37 96.83 294.61 97.47C293.84 98.11 293.07 98.75 292.3 99.39C291.54 100.04 290.77 100.68 290.02 101.33C289.26 101.98 288.5 102.64 287.75 103.3C287 103.97 286.25 104.64 285.52 105.32C284.78 106.01 284.05 106.7 283.32 107.41C282.6 108.13 281.89 108.85 281.19 109.59C280.48 110.34 279.79 111.09 279.11 111.87C278.42 112.66 277.75 113.46 277.1 114.28C276.44 115.11 275.8 115.95 275.18 116.82C274.54 117.7 273.93 118.6 273.34 119.52C272.74 120.46 272.18 121.44 271.61 122.4L215 130Z" fill="#edb163" stroke="rgba(40,25,10,0.75)" stroke-width="0.5"/>
<path d="M232.2 122.07C233.05 121.36 233.9 120.66 234.73 119.95C235.56 119.25 236.37 118.53 237.18 117.82C237.97 117.11 238.76 116.39 239.54 115.67C240.31 114.96 241.07 114.24 241.83 113.51C242.57 112.79 243.31 112.07 244.05 111.34C244.78 110.62 245.5 109.9 246.21 109.17C246.93 108.44 247.63 107.71 248.33 106.98C249.03 106.26 249.72 105.53 250.4 104.8C251.09 104.07 251.76 103.34 252.44 102.61C253.11 101.88 253.78 101.15 254.45 100.42C255.12 99.69 255.78 98.96 256.45 98.23C257.11 97.5 257.77 96.77 258.43 96.05C259.09 95.32 259.74 94.59 260.4 93.87C261.06 93.15 261.72 92.42 262.39 91.7C263.05 90.98 263.71 90.26 264.38 89.54C265.05 88.83 265.72 88.11 266.39 87.4C267.07 86.68 267.75 85.97 268.43 85.27C269.12 84.56 269.81 83.85 270.51 83.15C271.21 82.45 271.91 81.75 272.63 81.05C273.34 80.36 274.06 79.66 274.79 78.98C275.53 78.29 276.27 77.6 277.02 76.92C277.77 76.24 278.54 75.57 279.31 74.9C280.09 74.22 280.88 73.55 281.67 72.89C282.48 72.23 283.29 71.57 284.12 70.92C284.95 70.27 285.8 69.62 286.66 68.98C287.52 68.33 288.4 67.7 289.29 67.07C290.18 66.44 291.1 65.81 292.02 65.19C292.96 64.57 293.9 63.96 294.86 63.37C295.82 62.77 296.8 62.19 297.78 61.65C298.76 61.11 299.74 60.59 300.73 60.12C301.71 59.67 302.69 59.24 303.67 58.88C304.63 58.53 305.6 58.22 306.56 58C307.49 57.79 308.42 57.63 309.34 57.58C310.23 57.53 311.14 57.55 311.99 57.7C312.81 57.84 313.66 58.07 314.38 58.43C315.07 58.78 315.75 59.25 316.24 59.82C316.74 60.4 317.1 61.14 317.34 61.89C317.58 62.67 317.66 63.57 317.65 64.44C317.65 65.36 317.5 66.34 317.28 67.28C317.06 68.24 316.71 69.22 316.3 70.16C315.88 71.12 315.36 72.05 314.8 72.95C314.24 73.87 313.59 74.76 312.93 75.63C312.26 76.5 311.54 77.36 310.82 78.19C310.1 79.03 309.35 79.85 308.6 80.66C307.87 81.46 307.13 82.24 306.38 83.02C305.64 83.79 304.9 84.54 304.16 85.29C303.42 86.04 302.68 86.77 301.94 87.49C301.21 88.21 300.47 88.92 299.73 89.62C298.99 90.32 298.26 91.02 297.52 91.71C296.79 92.39 296.05 93.07 295.32 93.75C294.59 94.42 293.86 95.09 293.13 95.76C292.4 96.43 291.68 97.09 290.95 97.76C290.23 98.42 289.5 99.09 288.78 99.75C288.06 100.42 287.34 101.08 286.63 101.75C285.91 102.43 285.2 103.1 284.49 103.78C283.78 104.46 283.07 105.14 282.36 105.83C281.66 106.53 280.96 107.23 280.26 107.94C279.56 108.65 278.86 109.37 278.17 110.09C277.48 110.83 276.79 111.57 276.11 112.32C275.42 113.08 274.74 113.85 274.07 114.63C273.39 115.42 272.71 116.22 272.05 117.04C271.38 117.86 270.71 118.69 270.06 119.54C269.39 120.4 268.74 121.3 268.09 122.17L215 130Z" fill="#f5c87d" stroke="rgba(40,25,10,0.75)" stroke-width="0.5"/>
<path d="M239.04 122.09C239.78 121.34 240.51 120.58 241.24 119.83C241.97 119.09 242.71 118.34 243.44 117.6C244.17 116.86 244.9 116.12 245.63 115.38C246.37 114.64 247.1 113.91 247.83 113.18C248.56 112.45 249.29 111.72 250.02 110.99C250.75 110.26 251.48 109.54 252.22 108.81C252.95 108.09 253.68 107.37 254.41 106.65C255.14 105.93 255.87 105.21 256.6 104.49C257.33 103.77 258.06 103.06 258.8 102.34C259.53 101.62 260.26 100.91 260.99 100.19C261.72 99.48 262.45 98.76 263.19 98.04C263.92 97.33 264.65 96.61 265.38 95.9C266.12 95.18 266.85 94.47 267.58 93.75C268.32 93.03 269.05 92.31 269.78 91.6C270.52 90.88 271.25 90.16 271.99 89.44C272.72 88.72 273.46 87.99 274.2 87.27C274.93 86.54 275.67 85.82 276.41 85.09C277.14 84.36 277.88 83.63 278.62 82.9C279.36 82.17 280.1 81.43 280.84 80.69C281.58 79.96 282.32 79.21 283.06 78.47C283.8 77.73 284.55 76.99 285.3 76.26C286.06 75.53 286.81 74.8 287.59 74.08C288.36 73.37 289.14 72.67 289.94 71.98C290.74 71.3 291.55 70.64 292.39 70C293.22 69.36 294.07 68.74 294.95 68.16C295.83 67.58 296.72 67.02 297.65 66.5C298.58 65.99 299.54 65.49 300.52 65.07C301.49 64.65 302.51 64.19 303.51 63.98C304.46 63.77 305.47 63.6 306.35 63.74C307.16 63.87 308.01 64.22 308.59 64.69C309.13 65.13 309.55 65.78 309.79 66.44C310.03 67.13 310.04 67.96 309.99 68.76C309.94 69.63 309.68 70.57 309.4 71.48C309.1 72.46 308.65 73.46 308.19 74.44C307.71 75.46 307.14 76.48 306.55 77.47C305.96 78.47 305.32 79.46 304.67 80.4C304.03 81.34 303.36 82.25 302.67 83.13C302 83.99 301.3 84.83 300.59 85.65C299.88 86.46 299.16 87.24 298.43 88C297.7 88.76 296.95 89.49 296.2 90.21C295.45 90.92 294.69 91.61 293.92 92.29C293.16 92.96 292.38 93.62 291.6 94.27C290.83 94.92 290.04 95.55 289.26 96.18C288.47 96.81 287.68 97.42 286.89 98.04C286.1 98.65 285.31 99.26 284.52 99.87C283.73 100.49 282.95 101.09 282.16 101.71C281.38 102.33 280.59 102.94 279.82 103.57C279.04 104.2 278.27 104.83 277.51 105.48C276.75 106.13 275.99 106.79 275.24 107.47C274.49 108.15 273.75 108.84 273.03 109.55C272.3 110.27 271.59 111.01 270.89 111.76C270.18 112.53 269.49 113.31 268.82 114.12C268.14 114.94 267.48 115.78 266.85 116.65C266.2 117.54 265.58 118.45 264.98 119.38C264.37 120.34 263.81 121.35 263.22 122.34L215 130Z" fill="#fff0c0" stroke="rgba(40,25,10,0.75)" stroke-width="0.5"/>
</g>
<text x="242.2" y="19.9" font-size="15" fill="#fff">0.05<tspan font-family="Liberation Serif" font-style="italic" font-size="15.5" dx="0.3">π</tspan></text>
<line x1="238.1" y1="113.9" x2="238.1" y2="118.9" stroke="#cfcfcf" stroke-width="1"/>
<text x="238.1" y="132.7" font-size="10" fill="#000" text-anchor="middle">5</text>
<line x1="230.6" y1="112.3" x2="236.1" y2="112.3" stroke="#cfcfcf" stroke-width="1"/>
<text x="227.5" y="116.4" font-size="10" fill="#000" text-anchor="end">5</text>
<line x1="264.9" y1="113.9" x2="264.9" y2="118.9" stroke="#cfcfcf" stroke-width="1"/>
<text x="264.9" y="132.7" font-size="10" fill="#000" text-anchor="middle">6</text>
<line x1="230.6" y1="85.28" x2="236.1" y2="85.28" stroke="#cfcfcf" stroke-width="1"/>
<text x="227.5" y="89.38" font-size="10" fill="#000" text-anchor="end">6</text>
<line x1="291.7" y1="113.9" x2="291.7" y2="118.9" stroke="#cfcfcf" stroke-width="1"/>
<text x="291.7" y="132.7" font-size="10" fill="#000" text-anchor="middle">7</text>
<line x1="230.6" y1="58.25" x2="236.1" y2="58.25" stroke="#cfcfcf" stroke-width="1"/>
<text x="227.5" y="62.35" font-size="10" fill="#000" text-anchor="end">7</text>
<line x1="318.5" y1="113.9" x2="318.5" y2="118.9" stroke="#cfcfcf" stroke-width="1"/>
<text x="318.5" y="132.7" font-size="10" fill="#000" text-anchor="middle">8</text>
<line x1="230.6" y1="31.23" x2="236.1" y2="31.23" stroke="#cfcfcf" stroke-width="1"/>
<text x="227.5" y="35.33" font-size="10" fill="#000" text-anchor="end">8</text>
<line x1="345.3" y1="113.9" x2="345.3" y2="118.9" stroke="#cfcfcf" stroke-width="1"/>
<text x="345.3" y="132.7" font-size="10" fill="#000" text-anchor="middle">9</text>
<line x1="230.6" y1="4.2" x2="236.1" y2="4.2" stroke="#cfcfcf" stroke-width="1"/>
<text x="227.5" y="8.3" font-size="10" fill="#000" text-anchor="end">9</text>
<rect x="363.2" y="0.7" width="15.8" height="19.23" fill="#fff0c0"/>
<rect x="363.2" y="19.63" width="15.8" height="19.23" fill="#f5c87d"/>
<rect x="363.2" y="38.56" width="15.8" height="19.23" fill="#edb163"/>
<rect x="363.2" y="57.49" width="15.8" height="19.23" fill="#e39f4f"/>
<rect x="363.2" y="76.42" width="15.8" height="19.23" fill="#a78b75"/>
<rect x="363.2" y="95.35" width="15.8" height="19.23" fill="#70769a"/>
<rect x="363.2" y="114.28" width="15.8" height="19.63" fill="#25548c"/>
<line x1="379" y1="19.63" x2="383.8" y2="19.63" stroke="#d9d9d9" stroke-width="1"/>
<line x1="363.2" y1="19.63" x2="379" y2="19.63" stroke="rgba(40,25,10,0.75)" stroke-width="0.6"/>
<text x="387.2" y="23.53" font-size="10" fill="#000" letter-spacing="-0.05">0.0132</text>
<line x1="379" y1="38.56" x2="383.8" y2="38.56" stroke="#d9d9d9" stroke-width="1"/>
<line x1="363.2" y1="38.56" x2="379" y2="38.56" stroke="rgba(40,25,10,0.75)" stroke-width="0.6"/>
<text x="387.2" y="42.46" font-size="10" fill="#000" letter-spacing="-0.05">0.0110</text>
<line x1="379" y1="57.49" x2="383.8" y2="57.49" stroke="#d9d9d9" stroke-width="1"/>
<line x1="363.2" y1="57.49" x2="379" y2="57.49" stroke="rgba(40,25,10,0.75)" stroke-width="0.6"/>
<text x="387.2" y="61.39" font-size="10" fill="#000" letter-spacing="-0.05">0.0088</text>
<line x1="379" y1="76.42" x2="383.8" y2="76.42" stroke="#d9d9d9" stroke-width="1"/>
<line x1="363.2" y1="76.42" x2="379" y2="76.42" stroke="rgba(40,25,10,0.75)" stroke-width="0.6"/>
<text x="387.2" y="80.32" font-size="10" fill="#000" letter-spacing="-0.05">0.0066</text>
<line x1="379" y1="95.35" x2="383.8" y2="95.35" stroke="#d9d9d9" stroke-width="1"/>
<line x1="363.2" y1="95.35" x2="379" y2="95.35" stroke="rgba(40,25,10,0.75)" stroke-width="0.6"/>
<text x="387.2" y="99.25" font-size="10" fill="#000" letter-spacing="-0.05">0.0044</text>
<line x1="379" y1="114.28" x2="383.8" y2="114.28" stroke="#d9d9d9" stroke-width="1"/>
<line x1="363.2" y1="114.28" x2="379" y2="114.28" stroke="rgba(40,25,10,0.75)" stroke-width="0.6"/>
<text x="387.2" y="118.18" font-size="10" fill="#000" letter-spacing="-0.05">0.0022</text>
</g>
<g id="panel3">
<rect x="449.1" y="2.1" width="111.6" height="111.8" fill="#fff" stroke="#cdcdcd" stroke-width="1"/>
<g clip-path="url(#c3)">
<rect x="450" y="3" width="109.8" height="110" fill="#25548c"/>
<path d="M438.79 109.47C439.59 108.88 440.41 108.29 441.21 107.69C442.01 107.08 442.8 106.47 443.59 105.84C444.38 105.21 445.16 104.58 445.94 103.93C446.72 103.28 447.5 102.63 448.26 101.96C449.03 101.3 449.8 100.62 450.56 99.94C451.32 99.26 452.08 98.57 452.83 97.88C453.59 97.18 454.34 96.48 455.09 95.77C455.83 95.06 456.58 94.35 457.32 93.63C458.06 92.91 458.81 92.19 459.54 91.46C460.28 90.73 461.02 90 461.76 89.27C462.49 88.53 463.23 87.79 463.96 87.05C464.7 86.31 465.43 85.57 466.16 84.83C466.9 84.08 467.63 83.34 468.36 82.59C469.1 81.85 469.83 81.1 470.57 80.35C471.3 79.61 472.04 78.86 472.77 78.12C473.51 77.38 474.25 76.63 474.99 75.89C475.73 75.15 476.48 74.41 477.22 73.68C477.97 72.95 478.72 72.21 479.47 71.49C480.22 70.76 480.97 70.04 481.73 69.32C482.49 68.6 483.25 67.89 484.02 67.18C484.78 66.47 485.55 65.77 486.33 65.08C487.1 64.38 487.88 63.69 488.66 63.01C489.45 62.33 490.24 61.66 491.03 61C491.83 60.33 492.63 59.68 493.44 59.03C494.25 58.39 495.06 57.75 495.88 57.12C496.7 56.5 497.53 55.88 498.36 55.28C499.2 54.68 500.04 54.08 500.89 53.5C501.74 52.92 502.6 52.35 503.47 51.8C504.33 51.24 505.21 50.7 506.09 50.18C506.98 49.65 507.87 49.13 508.77 48.63C509.67 48.14 510.59 47.65 511.51 47.18C512.43 46.72 513.36 46.26 514.3 45.83C515.25 45.39 516.2 44.97 517.16 44.57C518.13 44.17 519.1 43.79 520.08 43.43C521.06 43.07 522.05 42.74 523.04 42.43C524.03 42.12 525.03 41.83 526.03 41.57C527.03 41.32 528.03 41.09 529.03 40.9C530.03 40.71 531.03 40.55 532.03 40.43C533.02 40.3 534.02 40.22 535.01 40.17C536 40.13 536.98 40.12 537.96 40.16C538.93 40.2 539.9 40.28 540.86 40.41C541.82 40.54 542.76 40.72 543.7 40.95C544.63 41.18 545.55 41.45 546.45 41.79C547.36 42.13 548.25 42.52 549.12 42.96C549.99 43.41 550.84 43.91 551.67 44.46C552.5 45.01 553.31 45.62 554.09 46.26C554.88 46.92 555.64 47.62 556.37 48.35C557.11 49.09 557.82 49.87 558.49 50.69C559.17 51.51 559.82 52.37 560.43 53.25C561.05 54.15 561.64 55.07 562.18 56.02C562.74 56.98 563.25 57.97 563.73 58.97C564.2 59.98 564.64 61.02 565.04 62.07C565.44 63.13 565.8 64.2 566.11 65.29C566.43 66.39 566.66 67.51 566.93 68.62L570 130L430 130Z" fill="#70769a" stroke="rgba(40,25,10,0.75)" stroke-width="0.5"/>
<path d="M570.2 89.36C569.02 88.94 567.83 88.46 566.65 88.11C565.5 87.77 564.35 87.49 563.21 87.27C562.1 87.07 560.99 86.92 559.89 86.84C558.82 86.75 557.74 86.73 556.68 86.77C555.64 86.8 554.6 86.9 553.57 87.04C552.56 87.19 551.55 87.39 550.56 87.64C549.58 87.88 548.6 88.18 547.65 88.52C546.69 88.87 545.75 89.26 544.82 89.68C543.89 90.11 542.97 90.58 542.07 91.08C541.16 91.58 540.27 92.13 539.4 92.69C538.51 93.27 537.65 93.87 536.79 94.5C535.93 95.14 535.09 95.8 534.26 96.48C533.42 97.16 532.59 97.87 531.78 98.59C530.96 99.32 530.15 100.07 529.36 100.83C528.55 101.59 527.76 102.37 526.98 103.15C526.2 103.94 525.42 104.74 524.65 105.54C523.88 106.34 523.11 107.15 522.35 107.97C521.59 108.78 520.84 109.6 520.09 110.41C519.34 111.22 518.6 112.04 517.85 112.84C517.11 113.65 516.38 114.45 515.64 115.24C514.9 116.03 514.17 116.81 513.44 117.58C512.71 118.34 511.98 119.09 511.25 119.83C510.52 120.55 509.79 121.25 509.06 121.96L570 130Z" fill="#25548c" stroke="rgba(40,25,10,0.75)" stroke-width="0.5"/>
<path d="M438.67 116.7C439.51 115.97 440.35 115.24 441.17 114.51C441.99 113.79 442.81 113.06 443.62 112.34C444.42 111.63 445.22 110.91 446.02 110.19C446.8 109.48 447.59 108.77 448.37 108.06C449.14 107.36 449.91 106.65 450.68 105.95C451.44 105.25 452.2 104.55 452.96 103.85C453.71 103.16 454.45 102.46 455.2 101.77C455.94 101.08 456.68 100.39 457.42 99.7C458.15 99.01 458.88 98.33 459.61 97.64C460.33 96.96 461.06 96.28 461.78 95.6C462.5 94.92 463.22 94.24 463.94 93.56C464.66 92.88 465.37 92.21 466.09 91.53C466.8 90.86 467.51 90.19 468.22 89.51C468.94 88.84 469.65 88.17 470.36 87.5C471.07 86.83 471.79 86.16 472.5 85.49C473.21 84.82 473.93 84.15 474.65 83.48C475.36 82.82 476.08 82.15 476.8 81.48C477.52 80.81 478.24 80.15 478.97 79.48C479.7 78.81 480.42 78.15 481.16 77.48C481.89 76.81 482.63 76.15 483.37 75.48C484.11 74.81 484.85 74.14 485.6 73.48C486.35 72.81 487.11 72.14 487.87 71.47C488.63 70.8 489.4 70.13 490.17 69.46C490.95 68.79 491.73 68.11 492.51 67.44C493.31 66.77 494.1 66.09 494.9 65.42C495.71 64.74 496.52 64.06 497.33 63.39C498.16 62.71 498.99 62.03 499.82 61.35C500.66 60.66 501.51 59.98 502.36 59.3C503.22 58.61 504.09 57.92 504.96 57.24C505.84 56.56 506.72 55.89 507.61 55.22C508.5 54.56 509.4 53.9 510.3 53.27C511.2 52.63 512.11 52.01 513.02 51.41C513.93 50.82 514.85 50.24 515.77 49.69C516.69 49.15 517.61 48.62 518.54 48.14C519.46 47.66 520.38 47.2 521.32 46.79C522.24 46.38 523.16 46 524.1 45.68C525.01 45.36 525.94 45.07 526.87 44.84C527.78 44.62 528.7 44.43 529.62 44.31C530.53 44.2 531.45 44.13 532.36 44.13C533.26 44.13 534.17 44.19 535.06 44.32C535.96 44.45 536.85 44.65 537.73 44.92C538.62 45.2 539.5 45.56 540.34 45.97C541.21 46.4 542.06 46.91 542.86 47.47C543.66 48.04 544.45 48.67 545.16 49.36C545.87 50.05 546.54 50.81 547.13 51.61C547.71 52.41 548.24 53.27 548.66 54.17C549.08 55.06 549.4 56.02 549.64 56.98C549.88 57.95 550.01 58.96 550.07 59.97C550.13 60.99 550.1 62.03 550 63.05C549.9 64.08 549.72 65.11 549.48 66.12C549.24 67.12 548.92 68.13 548.56 69.09C548.19 70.04 547.76 70.98 547.28 71.87C546.81 72.77 546.27 73.63 545.7 74.46C545.13 75.3 544.51 76.1 543.87 76.89C543.22 77.67 542.53 78.43 541.82 79.17C541.11 79.92 540.36 80.64 539.61 81.35C538.85 82.06 538.07 82.75 537.28 83.43C536.49 84.12 535.68 84.8 534.88 85.47C534.07 86.14 533.26 86.8 532.45 87.47C531.65 88.14 530.84 88.8 530.05 89.48C529.26 90.15 528.48 90.82 527.71 91.51C526.95 92.19 526.19 92.88 525.45 93.57C524.71 94.26 523.98 94.96 523.26 95.67C522.54 96.37 521.83 97.08 521.12 97.8C520.42 98.51 519.72 99.22 519.03 99.95C518.34 100.67 517.65 101.39 516.97 102.12C516.29 102.84 515.61 103.58 514.93 104.31C514.25 105.04 513.58 105.78 512.9 106.51C512.22 107.25 511.55 107.99 510.87 108.73C510.19 109.47 509.51 110.21 508.82 110.95C508.13 111.69 507.44 112.43 506.75 113.17C506.05 113.91 505.35 114.66 504.64 115.4C503.92 116.14 503.2 116.88 502.48 117.62C501.74 118.36 501.01 119.1 500.26 119.83C499.5 120.57 498.73 121.3 497.96 122.03L430 130Z" fill="#a78b75" stroke="rgba(40,25,10,0.75)" stroke-width="0.5"/>
<path d="M438.77 121.94C439.6 121.23 440.45 120.53 441.28 119.83C442.1 119.12 442.92 118.42 443.74 117.71C444.55 117.01 445.35 116.31 446.15 115.6C446.94 114.9 447.73 114.19 448.51 113.48C449.29 112.78 450.06 112.08 450.83 111.37C451.6 110.67 452.36 109.96 453.11 109.26C453.87 108.55 454.62 107.85 455.37 107.14C456.11 106.44 456.85 105.74 457.59 105.03C458.33 104.33 459.06 103.63 459.79 102.92C460.52 102.22 461.25 101.52 461.97 100.82C462.69 100.12 463.41 99.42 464.13 98.72C464.85 98.02 465.57 97.32 466.29 96.62C467 95.92 467.72 95.23 468.43 94.53C469.14 93.83 469.86 93.14 470.57 92.44C471.29 91.75 472 91.06 472.72 90.37C473.43 89.68 474.15 88.98 474.86 88.3C475.58 87.61 476.3 86.92 477.02 86.23C477.74 85.55 478.47 84.86 479.19 84.18C479.92 83.5 480.65 82.82 481.38 82.14C482.12 81.46 482.86 80.78 483.6 80.1C484.34 79.43 485.09 78.75 485.84 78.08C486.59 77.41 487.35 76.74 488.11 76.07C488.87 75.4 489.64 74.74 490.41 74.07C491.19 73.41 491.97 72.75 492.76 72.09C493.55 71.43 494.34 70.77 495.14 70.12C495.95 69.46 496.76 68.81 497.58 68.16C498.4 67.51 499.23 66.86 500.07 66.22C500.91 65.57 501.76 64.93 502.61 64.29C503.47 63.65 504.34 63.02 505.22 62.39C506.1 61.75 506.99 61.12 507.89 60.49C508.79 59.86 509.7 59.24 510.62 58.62C511.55 58.01 512.48 57.39 513.42 56.8C514.36 56.21 515.31 55.63 516.26 55.09C517.21 54.55 518.17 54.03 519.13 53.55C520.08 53.08 521.04 52.63 522 52.24C522.95 51.86 523.9 51.51 524.86 51.24C525.8 50.96 526.75 50.73 527.69 50.59C528.61 50.44 529.55 50.35 530.47 50.36C531.38 50.36 532.29 50.44 533.17 50.61C534.06 50.78 534.95 51.05 535.79 51.41C536.65 51.77 537.51 52.25 538.29 52.79C539.08 53.34 539.84 54 540.51 54.7C541.16 55.41 541.78 56.2 542.25 57.03C542.71 57.85 543.09 58.75 543.31 59.66C543.52 60.57 543.58 61.54 543.54 62.49C543.5 63.46 543.31 64.46 543.05 65.43C542.79 66.43 542.4 67.43 541.97 68.4C541.54 69.4 541.01 70.38 540.46 71.33C539.91 72.29 539.3 73.23 538.67 74.13C538.05 75.03 537.4 75.9 536.73 76.74C536.07 77.57 535.39 78.38 534.69 79.16C534 79.93 533.29 80.68 532.57 81.42C531.85 82.14 531.12 82.85 530.37 83.54C529.63 84.23 528.88 84.9 528.12 85.56C527.37 86.23 526.6 86.87 525.83 87.51C525.06 88.15 524.29 88.78 523.51 89.41C522.74 90.05 521.96 90.67 521.19 91.3C520.41 91.93 519.64 92.56 518.87 93.2C518.1 93.84 517.33 94.48 516.57 95.13C515.81 95.79 515.05 96.46 514.31 97.14C513.56 97.83 512.82 98.53 512.1 99.25C511.37 99.97 510.65 100.71 509.95 101.47C509.24 102.23 508.54 103.01 507.85 103.79C507.15 104.58 506.47 105.38 505.79 106.18C505.1 106.98 504.42 107.79 503.74 108.59C503.06 109.4 502.39 110.21 501.7 111.01C501.02 111.81 500.34 112.61 499.65 113.4C498.96 114.18 498.27 114.96 497.57 115.72C496.87 116.47 496.16 117.22 495.44 117.94C494.72 118.66 494 119.36 493.25 120.04C492.51 120.7 491.74 121.32 490.98 121.97L430 130Z" fill="#e39f4f" stroke="rgba(40,25,10,0.75)" stroke-width="0.5"/>
<path d="M446.31 122.06C447.09 121.32 447.88 120.59 448.65 119.86C449.42 119.12 450.18 118.39 450.94 117.65C451.7 116.92 452.45 116.18 453.2 115.44C453.94 114.7 454.68 113.97 455.42 113.23C456.15 112.49 456.88 111.75 457.61 111.02C458.33 110.28 459.05 109.54 459.77 108.81C460.49 108.07 461.2 107.33 461.91 106.6C462.62 105.86 463.33 105.13 464.04 104.39C464.74 103.66 465.44 102.93 466.15 102.19C466.85 101.46 467.55 100.73 468.25 100C468.95 99.27 469.65 98.55 470.34 97.82C471.04 97.09 471.74 96.37 472.44 95.65C473.14 94.92 473.83 94.2 474.53 93.48C475.23 92.77 475.94 92.05 476.64 91.33C477.34 90.62 478.04 89.91 478.75 89.2C479.46 88.49 480.17 87.78 480.88 87.08C481.59 86.38 482.31 85.68 483.03 84.98C483.75 84.28 484.47 83.59 485.2 82.89C485.93 82.2 486.66 81.51 487.4 80.83C488.14 80.15 488.88 79.47 489.63 78.79C490.38 78.11 491.13 77.44 491.89 76.77C492.65 76.1 493.42 75.44 494.19 74.78C494.97 74.11 495.75 73.46 496.54 72.81C497.33 72.15 498.13 71.51 498.94 70.87C499.75 70.22 500.56 69.59 501.38 68.95C502.21 68.32 503.04 67.69 503.89 67.07C504.73 66.45 505.58 65.83 506.45 65.22C507.31 64.61 508.19 64 509.07 63.41C509.96 62.8 510.86 62.21 511.77 61.62C512.68 61.03 513.6 60.45 514.53 59.88C515.47 59.3 516.41 58.73 517.37 58.18C518.32 57.64 519.28 57.1 520.25 56.62C521.2 56.15 522.16 55.7 523.13 55.33C524.07 54.97 525.01 54.64 525.96 54.42C526.87 54.21 527.8 54.06 528.7 54.04C529.58 54.02 530.47 54.08 531.31 54.3C532.15 54.51 532.99 54.86 533.73 55.31C534.49 55.77 535.22 56.38 535.82 57.03C536.42 57.69 536.96 58.46 537.34 59.26C537.71 60.06 537.97 60.94 538.08 61.81C538.19 62.7 538.13 63.63 538.01 64.54C537.88 65.49 537.6 66.45 537.29 67.39C536.96 68.36 536.53 69.33 536.07 70.27C535.6 71.23 535.06 72.18 534.51 73.11C533.96 74.04 533.37 74.94 532.77 75.83C532.17 76.71 531.55 77.57 530.91 78.42C530.28 79.26 529.62 80.07 528.95 80.88C528.28 81.68 527.6 82.46 526.9 83.23C526.21 83.99 525.5 84.74 524.78 85.48C524.06 86.21 523.33 86.93 522.59 87.64C521.85 88.35 521.09 89.05 520.34 89.74C519.58 90.43 518.82 91.11 518.05 91.78C517.28 92.46 516.5 93.12 515.73 93.78C514.95 94.45 514.17 95.1 513.38 95.76C512.6 96.41 511.82 97.06 511.03 97.72C510.25 98.37 509.46 99.02 508.68 99.67C507.9 100.33 507.12 100.98 506.35 101.65C505.58 102.31 504.81 102.97 504.04 103.65C503.28 104.32 502.52 105 501.77 105.69C501.02 106.38 500.28 107.08 499.55 107.79C498.82 108.5 498.1 109.22 497.39 109.96C496.68 110.69 495.98 111.44 495.3 112.21C494.61 112.97 493.94 113.76 493.29 114.56C492.64 115.36 492 116.18 491.38 117.02C490.76 117.86 490.15 118.72 489.57 119.6C488.99 120.49 488.45 121.42 487.89 122.33L430 130Z" fill="#edb163" stroke="rgba(40,25,10,0.75)" stroke-width="0.5"/>
<path d="M450.66 122.15C451.46 121.39 452.26 120.64 453.06 119.88C453.84 119.12 454.62 118.37 455.39 117.61C456.16 116.86 456.92 116.11 457.67 115.36C458.42 114.61 459.16 113.86 459.9 113.11C460.63 112.37 461.36 111.63 462.08 110.88C462.8 110.14 463.51 109.4 464.23 108.66C464.93 107.92 465.64 107.18 466.34 106.44C467.04 105.71 467.73 104.97 468.43 104.24C469.12 103.51 469.81 102.77 470.5 102.04C471.19 101.32 471.87 100.59 472.56 99.86C473.24 99.14 473.92 98.41 474.61 97.69C475.29 96.96 475.98 96.24 476.66 95.52C477.35 94.8 478.03 94.09 478.72 93.37C479.41 92.65 480.1 91.94 480.79 91.23C481.49 90.52 482.18 89.8 482.88 89.1C483.59 88.39 484.29 87.68 485 86.97C485.71 86.27 486.43 85.56 487.15 84.86C487.87 84.16 488.6 83.46 489.34 82.76C490.07 82.06 490.82 81.36 491.57 80.67C492.32 79.97 493.08 79.28 493.85 78.59C494.62 77.89 495.4 77.2 496.19 76.52C496.98 75.83 497.78 75.14 498.59 74.46C499.41 73.77 500.23 73.09 501.07 72.41C501.91 71.72 502.76 71.04 503.62 70.37C504.49 69.69 505.36 69.01 506.25 68.34C507.14 67.67 508.05 67.01 508.96 66.36C509.87 65.72 510.79 65.08 511.72 64.48C512.65 63.88 513.59 63.29 514.53 62.74C515.47 62.2 516.41 61.68 517.37 61.21C518.31 60.75 519.26 60.31 520.21 59.93C521.15 59.56 522.1 59.23 523.05 58.97C523.99 58.71 524.93 58.49 525.87 58.36C526.79 58.23 527.74 58.13 528.62 58.18C529.46 58.23 530.33 58.32 531.03 58.64C531.69 58.94 532.31 59.4 532.74 59.96C533.19 60.54 533.47 61.32 533.64 62.09C533.84 62.9 533.86 63.84 533.8 64.74C533.75 65.69 533.55 66.69 533.28 67.64C533.01 68.62 532.62 69.6 532.16 70.53C531.69 71.46 531.12 72.36 530.51 73.23C529.9 74.11 529.2 74.94 528.49 75.76C527.78 76.59 527 77.38 526.24 78.17C525.47 78.95 524.67 79.71 523.89 80.48C523.11 81.23 522.33 81.98 521.55 82.72C520.78 83.46 520.01 84.19 519.24 84.91C518.47 85.64 517.7 86.35 516.94 87.06C516.18 87.77 515.42 88.47 514.67 89.17C513.91 89.87 513.16 90.56 512.41 91.26C511.67 91.95 510.92 92.63 510.18 93.32C509.44 94 508.7 94.69 507.96 95.37C507.23 96.05 506.49 96.73 505.76 97.42C505.03 98.1 504.3 98.79 503.58 99.47C502.86 100.16 502.13 100.85 501.42 101.54C500.7 102.23 499.98 102.93 499.27 103.63C498.55 104.33 497.84 105.04 497.13 105.75C496.42 106.46 495.72 107.18 495.01 107.91C494.31 108.64 493.61 109.37 492.91 110.11C492.21 110.86 491.51 111.61 490.82 112.37C490.12 113.14 489.43 113.92 488.74 114.7C488.05 115.49 487.36 116.29 486.68 117.1C485.99 117.91 485.3 118.74 484.62 119.58C483.94 120.42 483.26 121.29 482.58 122.14L440 130Z" fill="#f5c87d" stroke="rgba(40,25,10,0.75)" stroke-width="0.5"/>
<path d="M458.64 122.09C459.37 121.36 460.11 120.62 460.83 119.89C461.56 119.15 462.28 118.41 463.01 117.67C463.72 116.93 464.44 116.19 465.15 115.44C465.87 114.7 466.58 113.96 467.28 113.22C467.99 112.47 468.7 111.73 469.4 110.99C470.1 110.24 470.8 109.5 471.5 108.76C472.2 108.01 472.9 107.27 473.6 106.53C474.3 105.78 474.99 105.04 475.69 104.3C476.39 103.56 477.08 102.82 477.78 102.08C478.48 101.34 479.17 100.6 479.87 99.86C480.57 99.13 481.26 98.39 481.96 97.65C482.66 96.92 483.36 96.19 484.07 95.46C484.77 94.73 485.47 94 486.18 93.27C486.89 92.55 487.6 91.82 488.31 91.1C489.02 90.38 489.74 89.66 490.46 88.95C491.18 88.23 491.9 87.52 492.62 86.81C493.35 86.1 494.08 85.39 494.82 84.69C495.55 83.99 496.29 83.29 497.04 82.59C497.78 81.9 498.53 81.21 499.29 80.52C500.04 79.83 500.8 79.15 501.57 78.47C502.34 77.79 503.11 77.12 503.89 76.45C504.67 75.78 505.46 75.11 506.25 74.46C507.05 73.8 507.85 73.14 508.66 72.49C509.47 71.84 510.28 71.2 511.1 70.56C511.91 69.92 512.73 69.29 513.55 68.66C514.37 68.03 515.2 67.4 516.02 66.78C516.84 66.16 517.64 65.48 518.48 64.94C519.29 64.41 520.11 63.68 520.98 63.56C521.82 63.45 522.85 63.77 523.6 64.2C524.36 64.63 525.08 65.41 525.52 66.14C525.92 66.81 526.15 67.59 526.21 68.35C526.27 69.13 526.11 69.95 525.88 70.75C525.63 71.59 525.2 72.43 524.74 73.26C524.25 74.13 523.64 74.99 523.02 75.83C522.37 76.7 521.65 77.55 520.93 78.39C520.21 79.23 519.45 80.06 518.7 80.87C517.95 81.68 517.2 82.47 516.45 83.25C515.7 84.03 514.95 84.79 514.2 85.54C513.45 86.28 512.7 87.01 511.95 87.74C511.21 88.46 510.46 89.17 509.71 89.87C508.96 90.57 508.21 91.26 507.46 91.95C506.72 92.63 505.97 93.3 505.22 93.98C504.48 94.65 503.74 95.31 502.99 95.98C502.25 96.64 501.51 97.3 500.77 97.96C500.03 98.62 499.29 99.28 498.56 99.94C497.82 100.6 497.09 101.25 496.36 101.92C495.63 102.58 494.9 103.25 494.18 103.92C493.45 104.6 492.73 105.28 492.01 105.96C491.29 106.65 490.57 107.34 489.86 108.05C489.15 108.75 488.44 109.47 487.74 110.19C487.03 110.92 486.33 111.66 485.63 112.41C484.93 113.16 484.24 113.93 483.55 114.71C482.86 115.5 482.17 116.3 481.49 117.11C480.81 117.93 480.13 118.77 479.47 119.62C478.79 120.48 478.14 121.38 477.47 122.26L450 130Z" fill="#fff0c0" stroke="rgba(40,25,10,0.75)" stroke-width="0.5"/>
</g>
<text x="455.2" y="19.9" font-size="15" fill="#fff">0.10<tspan font-family="Liberation Serif" font-style="italic" font-size="15.5" dx="0.3">π</tspan></text>
<line x1="451.1" y1="113.9" x2="451.1" y2="118.9" stroke="#cfcfcf" stroke-width="1"/>
<text x="451.1" y="132.7" font-size="10" fill="#000" text-anchor="middle">5</text>
<line x1="443.6" y1="112.3" x2="449.1" y2="112.3" stroke="#cfcfcf" stroke-width="1"/>
<text x="440.5" y="116.4" font-size="10" fill="#000" text-anchor="end">5</text>
<line x1="477.95" y1="113.9" x2="477.95" y2="118.9" stroke="#cfcfcf" stroke-width="1"/>
<text x="477.95" y="132.7" font-size="10" fill="#000" text-anchor="middle">6</text>
<line x1="443.6" y1="85.28" x2="449.1" y2="85.28" stroke="#cfcfcf" stroke-width="1"/>
<text x="440.5" y="89.38" font-size="10" fill="#000" text-anchor="end">6</text>
<line x1="504.8" y1="113.9" x2="504.8" y2="118.9" stroke="#cfcfcf" stroke-width="1"/>
<text x="504.8" y="132.7" font-size="10" fill="#000" text-anchor="middle">7</text>
<line x1="443.6" y1="58.25" x2="449.1" y2="58.25" stroke="#cfcfcf" stroke-width="1"/>
<text x="440.5" y="62.35" font-size="10" fill="#000" text-anchor="end">7</text>
<line x1="531.65" y1="113.9" x2="531.65" y2="118.9" stroke="#cfcfcf" stroke-width="1"/>
<text x="531.65" y="132.7" font-size="10" fill="#000" text-anchor="middle">8</text>
<line x1="443.6" y1="31.23" x2="449.1" y2="31.23" stroke="#cfcfcf" stroke-width="1"/>
<text x="440.5" y="35.33" font-size="10" fill="#000" text-anchor="end">8</text>
<line x1="558.5" y1="113.9" x2="558.5" y2="118.9" stroke="#cfcfcf" stroke-width="1"/>
<text x="558.5" y="132.7" font-size="10" fill="#000" text-anchor="middle">9</text>
<line x1="443.6" y1="4.2" x2="449.1" y2="4.2" stroke="#cfcfcf" stroke-width="1"/>
<text x="440.5" y="8.3" font-size="10" fill="#000" text-anchor="end">9</text>
<rect x="575.4" y="0.7" width="15.8" height="19.23" fill="#fff0c0"/>
<rect x="575.4" y="19.63" width="15.8" height="19.23" fill="#f5c87d"/>
<rect x="575.4" y="38.56" width="15.8" height="19.23" fill="#edb163"/>
<rect x="575.4" y="57.49" width="15.8" height="19.23" fill="#e39f4f"/>
<rect x="575.4" y="76.42" width="15.8" height="19.23" fill="#a78b75"/>
<rect x="575.4" y="95.35" width="15.8" height="19.23" fill="#70769a"/>
<rect x="575.4" y="114.28" width="15.8" height="19.63" fill="#25548c"/>
<line x1="591.2" y1="19.63" x2="596" y2="19.63" stroke="#d9d9d9" stroke-width="1"/>
<line x1="575.4" y1="19.63" x2="591.2" y2="19.63" stroke="rgba(40,25,10,0.75)" stroke-width="0.6"/>
<text x="599.4" y="23.53" font-size="10" fill="#000" letter-spacing="-0.05">0.0246</text>
<line x1="591.2" y1="38.56" x2="596" y2="38.56" stroke="#d9d9d9" stroke-width="1"/>
<line x1="575.4" y1="38.56" x2="591.2" y2="38.56" stroke="rgba(40,25,10,0.75)" stroke-width="0.6"/>
<text x="599.4" y="42.46" font-size="10" fill="#000" letter-spacing="-0.05">0.0205</text>
<line x1="591.2" y1="57.49" x2="596" y2="57.49" stroke="#d9d9d9" stroke-width="1"/>
<line x1="575.4" y1="57.49" x2="591.2" y2="57.49" stroke="rgba(40,25,10,0.75)" stroke-width="0.6"/>
<text x="599.4" y="61.39" font-size="10" fill="#000" letter-spacing="-0.05">0.0164</text>
<line x1="591.2" y1="76.42" x2="596" y2="76.42" stroke="#d9d9d9" stroke-width="1"/>
<line x1="575.4" y1="76.42" x2="591.2" y2="76.42" stroke="rgba(40,25,10,0.75)" stroke-width="0.6"/>
<text x="599.4" y="80.32" font-size="10" fill="#000" letter-spacing="-0.05">0.0123</text>
<line x1="591.2" y1="95.35" x2="596" y2="95.35" stroke="#d9d9d9" stroke-width="1"/>
<line x1="575.4" y1="95.35" x2="591.2" y2="95.35" stroke="rgba(40,25,10,0.75)" stroke-width="0.6"/>
<text x="599.4" y="99.25" font-size="10" fill="#000" letter-spacing="-0.05">0.0082</text>
<line x1="591.2" y1="114.28" x2="596" y2="114.28" stroke="#d9d9d9" stroke-width="1"/>
<line x1="575.4" y1="114.28" x2="591.2" y2="114.28" stroke="rgba(40,25,10,0.75)" stroke-width="0.6"/>
<text x="599.4" y="118.18" font-size="10" fill="#000" letter-spacing="-0.05">0.0041</text>
</g>
<g id="panel4">
<rect x="31.1" y="149.1" width="111.4" height="111.6" fill="#fff" stroke="#cdcdcd" stroke-width="1"/>
<g clip-path="url(#c4)">
<rect x="32" y="150" width="109.6" height="109.8" fill="#25548c"/>
<path d="M20.83 263.17C21.62 262.44 22.42 261.72 23.21 261C23.99 260.28 24.77 259.55 25.54 258.83C26.31 258.11 27.08 257.38 27.84 256.66C28.6 255.93 29.35 255.21 30.1 254.48C30.85 253.76 31.59 253.04 32.33 252.31C33.07 251.59 33.8 250.86 34.53 250.14C35.26 249.42 35.98 248.69 36.71 247.97C37.43 247.25 38.14 246.52 38.86 245.8C39.58 245.08 40.29 244.36 41 243.63C41.71 242.91 42.41 242.19 43.12 241.47C43.82 240.75 44.53 240.03 45.23 239.31C45.93 238.59 46.63 237.87 47.33 237.15C48.03 236.44 48.73 235.72 49.43 235C50.13 234.29 50.83 233.57 51.53 232.86C52.23 232.14 52.93 231.43 53.63 230.72C54.33 230.01 55.03 229.3 55.74 228.59C56.44 227.88 57.14 227.17 57.85 226.47C58.56 225.76 59.27 225.05 59.98 224.35C60.69 223.65 61.41 222.94 62.13 222.24C62.85 221.54 63.57 220.84 64.29 220.15C65.02 219.45 65.75 218.75 66.48 218.06C67.22 217.37 67.96 216.67 68.7 215.99C69.44 215.29 70.19 214.61 70.95 213.92C71.7 213.23 72.46 212.55 73.23 211.87C73.99 211.19 74.77 210.51 75.55 209.83C76.33 209.15 77.11 208.48 77.9 207.81C78.7 207.13 79.5 206.46 80.31 205.8C81.12 205.13 81.93 204.46 82.76 203.8C83.58 203.14 84.42 202.48 85.26 201.83C86.1 201.18 86.95 200.53 87.8 199.89C88.66 199.26 89.52 198.63 90.39 198.01C91.26 197.39 92.13 196.78 93.01 196.19C93.89 195.59 94.78 195.01 95.68 194.45C96.57 193.88 97.47 193.33 98.37 192.8C99.28 192.27 100.19 191.75 101.1 191.26C102.02 190.76 102.94 190.29 103.86 189.84C104.78 189.39 105.71 188.96 106.65 188.55C107.58 188.15 108.51 187.77 109.46 187.42C110.39 187.07 111.34 186.74 112.28 186.45C113.23 186.15 114.18 185.89 115.13 185.65C116.08 185.42 117.04 185.22 117.99 185.05C118.95 184.89 119.91 184.75 120.87 184.66C121.83 184.56 122.79 184.5 123.75 184.49C124.7 184.47 125.66 184.49 126.6 184.56C127.54 184.64 128.48 184.75 129.4 184.92C130.32 185.09 131.23 185.31 132.12 185.59C133.01 185.87 133.88 186.2 134.72 186.6C135.56 186.99 136.39 187.45 137.17 187.97C137.97 188.5 138.73 189.09 139.45 189.74C140.18 190.41 140.87 191.15 141.51 191.94C142.17 192.76 142.78 193.65 143.33 194.59C143.91 195.58 144.43 196.63 144.88 197.73C145.37 198.89 145.72 200.17 146.13 201.39L150 275L10 275Z" fill="#70769a" stroke="rgba(40,25,10,0.75)" stroke-width="0.5"/>
<path d="M21.38 268.48C22.21 267.81 23.05 267.13 23.88 266.45C24.71 265.77 25.52 265.09 26.33 264.4C27.14 263.72 27.94 263.03 28.73 262.33C29.52 261.64 30.31 260.95 31.08 260.25C31.86 259.56 32.63 258.86 33.39 258.16C34.16 257.46 34.91 256.75 35.66 256.05C36.41 255.35 37.16 254.64 37.9 253.93C38.64 253.22 39.37 252.52 40.1 251.8C40.83 251.09 41.56 250.38 42.28 249.67C43 248.96 43.72 248.24 44.44 247.53C45.15 246.81 45.86 246.1 46.57 245.38C47.28 244.67 47.98 243.95 48.69 243.23C49.39 242.51 50.09 241.8 50.8 241.08C51.5 240.36 52.2 239.64 52.9 238.92C53.6 238.21 54.29 237.49 54.99 236.77C55.69 236.05 56.39 235.34 57.09 234.62C57.79 233.9 58.49 233.19 59.19 232.47C59.89 231.76 60.59 231.04 61.3 230.33C62 229.62 62.71 228.91 63.42 228.2C64.13 227.48 64.84 226.77 65.56 226.07C66.27 225.36 66.99 224.65 67.71 223.95C68.44 223.24 69.16 222.54 69.89 221.84C70.63 221.14 71.36 220.44 72.1 219.74C72.84 219.04 73.59 218.35 74.34 217.66C75.09 216.96 75.85 216.27 76.62 215.59C77.38 214.9 78.15 214.21 78.93 213.53C79.71 212.85 80.5 212.17 81.29 211.5C82.08 210.82 82.89 210.15 83.69 209.48C84.51 208.81 85.33 208.14 86.15 207.48C86.98 206.82 87.82 206.16 88.66 205.51C89.51 204.85 90.37 204.2 91.23 203.56C92.1 202.91 92.98 202.27 93.86 201.65C94.75 201.02 95.64 200.4 96.54 199.81C97.44 199.21 98.35 198.63 99.27 198.07C100.18 197.51 101.1 196.97 102.03 196.46C102.95 195.96 103.88 195.47 104.82 195.02C105.76 194.58 106.7 194.16 107.64 193.78C108.58 193.41 109.53 193.06 110.48 192.77C111.43 192.47 112.38 192.21 113.33 192.01C114.28 191.81 115.24 191.65 116.19 191.54C117.14 191.44 118.09 191.39 119.03 191.4C119.97 191.4 120.91 191.46 121.82 191.59C122.73 191.71 123.64 191.89 124.52 192.14C125.39 192.39 126.25 192.69 127.07 193.07C127.89 193.45 128.7 193.89 129.45 194.4C130.21 194.92 130.93 195.51 131.6 196.15C132.29 196.81 132.92 197.53 133.52 198.3C134.13 199.07 134.69 199.91 135.21 200.77C135.75 201.65 136.24 202.58 136.7 203.52C137.16 204.48 137.58 205.48 137.98 206.49C138.37 207.5 138.73 208.55 139.06 209.6C139.4 210.66 139.7 211.73 139.97 212.81C140.24 213.88 140.49 214.97 140.71 216.04C140.92 217.11 141.11 218.19 141.28 219.25C141.45 220.3 141.59 221.34 141.71 222.37C141.83 223.37 141.92 224.37 142 225.34C142.07 226.27 142.1 227.17 142.16 228.09L150 275L10 275Z" fill="#a78b75" stroke="rgba(40,25,10,0.75)" stroke-width="0.5"/>
<path d="M153.57 250.26C152.87 249.4 152.21 248.5 151.48 247.67C150.75 246.85 149.97 246.06 149.17 245.3C148.37 244.55 147.54 243.83 146.68 243.16C145.82 242.48 144.94 241.85 144.03 241.26C143.13 240.67 142.2 240.12 141.25 239.62C140.31 239.13 139.35 238.67 138.38 238.27C137.41 237.87 136.43 237.52 135.44 237.22C134.46 236.92 133.46 236.67 132.47 236.48C131.48 236.29 130.48 236.15 129.49 236.08C128.51 236.01 127.52 235.98 126.54 236.03C125.57 236.08 124.6 236.18 123.65 236.35C122.7 236.52 121.76 236.76 120.84 237.06C119.92 237.36 119.02 237.74 118.14 238.16C117.26 238.59 116.4 239.09 115.55 239.62C114.7 240.16 113.87 240.75 113.05 241.38C112.23 242.01 111.42 242.69 110.63 243.38C109.83 244.09 109.05 244.84 108.28 245.59C107.5 246.36 106.73 247.16 105.97 247.96C105.21 248.76 104.46 249.59 103.71 250.42C102.97 251.25 102.23 252.1 101.48 252.93C100.74 253.77 100.01 254.62 99.27 255.45C98.53 256.28 97.8 257.1 97.06 257.91C96.32 258.71 95.59 259.51 94.84 260.28C94.1 261.03 93.36 261.78 92.6 262.49C91.85 263.19 91.1 263.87 90.32 264.5C89.57 265.13 88.8 265.72 88 266.27C87.23 266.8 86.42 267.24 85.63 267.73L152 275Z" fill="#70769a" stroke="rgba(40,25,10,0.75)" stroke-width="0.5"/>
<path d="M152.07 256.43C151.23 255.67 150.41 254.89 149.53 254.16C148.66 253.44 147.76 252.74 146.84 252.08C145.92 251.42 144.98 250.8 144.02 250.21C143.07 249.63 142.1 249.09 141.11 248.59C140.13 248.09 139.13 247.64 138.13 247.23C137.13 246.83 136.12 246.48 135.11 246.18C134.11 245.89 133.09 245.64 132.08 245.46C131.08 245.28 130.08 245.15 129.08 245.1C128.09 245.04 127.1 245.05 126.12 245.13C125.16 245.2 124.19 245.35 123.25 245.57C122.31 245.8 121.38 246.1 120.48 246.46C119.58 246.83 118.69 247.28 117.83 247.77C116.96 248.27 116.11 248.84 115.29 249.44C114.45 250.05 113.64 250.72 112.84 251.4C112.03 252.1 111.25 252.85 110.48 253.6C109.7 254.37 108.95 255.17 108.2 255.98C107.45 256.79 106.72 257.63 105.99 258.47C105.27 259.3 104.56 260.16 103.85 261.01C103.14 261.85 102.45 262.7 101.76 263.54C101.07 264.36 100.39 265.19 99.71 266C99.04 266.79 98.37 267.55 97.7 268.32L152 275Z" fill="#25548c" stroke="rgba(40,25,10,0.75)" stroke-width="0.5"/>
<path d="M30.78 268.41C31.51 267.71 32.24 267.02 32.96 266.32C33.69 265.62 34.41 264.91 35.13 264.2C35.85 263.49 36.57 262.77 37.29 262.05C38 261.33 38.72 260.6 39.43 259.87C40.14 259.14 40.86 258.41 41.57 257.67C42.28 256.94 42.98 256.2 43.69 255.46C44.4 254.71 45.11 253.97 45.81 253.23C46.52 252.48 47.22 251.73 47.92 250.98C48.63 250.23 49.33 249.48 50.03 248.73C50.74 247.98 51.44 247.23 52.14 246.48C52.84 245.73 53.54 244.98 54.24 244.23C54.95 243.48 55.65 242.73 56.35 241.98C57.05 241.23 57.75 240.48 58.46 239.74C59.16 238.99 59.86 238.25 60.56 237.51C61.27 236.77 61.97 236.03 62.68 235.29C63.38 234.56 64.09 233.83 64.8 233.1C65.5 232.37 66.21 231.64 66.92 230.92C67.63 230.21 68.34 229.49 69.06 228.78C69.77 228.07 70.48 227.36 71.2 226.66C71.92 225.96 72.63 225.27 73.36 224.58C74.08 223.89 74.8 223.21 75.53 222.53C76.25 221.85 76.98 221.18 77.72 220.52C78.46 219.85 79.2 219.19 79.95 218.53C80.7 217.87 81.45 217.22 82.22 216.57C82.98 215.92 83.75 215.28 84.53 214.64C85.31 213.99 86.1 213.35 86.9 212.72C87.71 212.09 88.52 211.45 89.34 210.83C90.17 210.2 91.01 209.57 91.85 208.95C92.71 208.32 93.57 207.7 94.45 207.08C95.33 206.46 96.23 205.84 97.13 205.23C98.05 204.61 98.97 203.99 99.91 203.39C100.85 202.78 101.81 202.18 102.77 201.62C103.73 201.05 104.7 200.5 105.68 199.99C106.65 199.5 107.63 199.02 108.61 198.6C109.58 198.2 110.56 197.82 111.54 197.53C112.5 197.25 113.47 197 114.43 196.86C115.38 196.72 116.33 196.64 117.26 196.67C118.18 196.7 119.11 196.82 120 197.04C120.89 197.26 121.77 197.6 122.6 198C123.44 198.41 124.25 198.91 125 199.47C125.76 200.04 126.48 200.69 127.13 201.38C127.78 202.08 128.39 202.85 128.92 203.65C129.45 204.45 129.92 205.31 130.3 206.2C130.69 207.08 131 208.01 131.22 208.95C131.43 209.89 131.56 210.86 131.59 211.83C131.63 212.8 131.57 213.78 131.43 214.75C131.29 215.71 131.06 216.68 130.75 217.61C130.45 218.55 130.05 219.46 129.59 220.34C129.14 221.22 128.59 222.07 128.01 222.89C127.43 223.71 126.78 224.51 126.1 225.28C125.43 226.06 124.7 226.81 123.97 227.54C123.23 228.28 122.46 229 121.69 229.71C120.93 230.41 120.15 231.11 119.37 231.8C118.59 232.48 117.8 233.16 117.01 233.82C116.23 234.49 115.44 235.15 114.64 235.8C113.85 236.45 113.05 237.1 112.25 237.74C111.46 238.38 110.66 239.01 109.86 239.64C109.06 240.28 108.26 240.9 107.46 241.53C106.66 242.16 105.86 242.78 105.06 243.41C104.26 244.03 103.47 244.66 102.67 245.28C101.88 245.91 101.09 246.54 100.3 247.17C99.51 247.81 98.72 248.44 97.94 249.08C97.16 249.72 96.38 250.37 95.61 251.02C94.84 251.67 94.07 252.33 93.32 253C92.55 253.67 91.8 254.35 91.05 255.04C90.31 255.72 89.57 256.42 88.84 257.13C88.1 257.84 87.38 258.56 86.67 259.3C85.95 260.03 85.25 260.78 84.55 261.55C83.86 262.31 83.17 263.09 82.5 263.89C81.82 264.69 81.16 265.5 80.51 266.33C79.86 267.17 79.23 268.04 78.59 268.89L30 275Z" fill="#e39f4f" stroke="rgba(40,25,10,0.75)" stroke-width="0.5"/>
<path d="M36.83 268.42C37.56 267.76 38.3 267.11 39.02 266.43C39.74 265.76 40.46 265.07 41.17 264.38C41.89 263.68 42.6 262.97 43.3 262.26C44.01 261.54 44.71 260.81 45.41 260.08C46.11 259.34 46.81 258.6 47.5 257.85C48.19 257.1 48.88 256.34 49.57 255.58C50.26 254.82 50.94 254.05 51.63 253.29C52.31 252.52 52.99 251.74 53.68 250.97C54.36 250.19 55.04 249.41 55.72 248.63C56.4 247.85 57.07 247.07 57.75 246.29C58.43 245.51 59.11 244.73 59.79 243.96C60.47 243.18 61.14 242.41 61.82 241.64C62.5 240.87 63.18 240.1 63.87 239.34C64.55 238.57 65.23 237.82 65.92 237.07C66.6 236.32 67.29 235.57 67.98 234.83C68.67 234.1 69.36 233.37 70.05 232.65C70.75 231.93 71.44 231.22 72.15 230.52C72.85 229.83 73.55 229.14 74.26 228.46C74.97 227.78 75.68 227.11 76.4 226.45C77.12 225.79 77.85 225.14 78.58 224.5C79.31 223.85 80.05 223.21 80.79 222.58C81.54 221.94 82.29 221.31 83.05 220.68C83.82 220.05 84.59 219.42 85.37 218.79C86.15 218.16 86.95 217.54 87.75 216.91C88.55 216.28 89.37 215.64 90.19 215.01C91.02 214.37 91.86 213.73 92.71 213.09C93.57 212.44 94.44 211.79 95.32 211.14C96.21 210.47 97.11 209.8 98.01 209.14C98.93 208.46 99.85 207.77 100.79 207.12C101.72 206.46 102.66 205.8 103.61 205.2C104.54 204.61 105.48 204.03 106.43 203.52C107.35 203.03 108.28 202.57 109.22 202.22C110.11 201.88 111.02 201.58 111.91 201.42C112.77 201.27 113.65 201.19 114.48 201.27C115.3 201.35 116.12 201.56 116.88 201.88C117.64 202.21 118.38 202.69 119.04 203.22C119.71 203.77 120.33 204.44 120.88 205.14C121.43 205.86 121.92 206.67 122.32 207.5C122.73 208.34 123.06 209.24 123.3 210.15C123.53 211.06 123.68 212.02 123.71 212.95C123.75 213.89 123.67 214.84 123.5 215.76C123.32 216.69 123.02 217.61 122.66 218.5C122.29 219.4 121.82 220.29 121.31 221.15C120.78 222.03 120.18 222.88 119.55 223.72C118.91 224.57 118.21 225.39 117.5 226.2C116.79 227.02 116.03 227.81 115.28 228.59C114.53 229.37 113.77 230.14 113 230.89C112.24 231.64 111.48 232.37 110.71 233.1C109.95 233.82 109.19 234.53 108.42 235.24C107.66 235.93 106.9 236.62 106.13 237.31C105.37 237.99 104.61 238.66 103.85 239.33C103.09 239.99 102.32 240.65 101.56 241.3C100.81 241.96 100.05 242.61 99.29 243.25C98.53 243.9 97.78 244.54 97.02 245.19C96.27 245.83 95.52 246.48 94.77 247.12C94.02 247.77 93.27 248.41 92.53 249.06C91.79 249.71 91.05 250.36 90.31 251.02C89.57 251.68 88.83 252.34 88.1 253.01C87.37 253.68 86.64 254.36 85.92 255.05C85.2 255.74 84.47 256.43 83.76 257.14C83.04 257.85 82.33 258.57 81.63 259.3C80.92 260.04 80.21 260.79 79.52 261.54C78.82 262.31 78.13 263.09 77.44 263.88C76.75 264.68 76.07 265.49 75.4 266.32C74.72 267.16 74.06 268.02 73.39 268.88L35 275Z" fill="#edb163" stroke="rgba(40,25,10,0.75)" stroke-width="0.5"/>
<path d="M41.86 268.44C42.58 267.76 43.3 267.08 44.01 266.39C44.73 265.7 45.45 264.99 46.15 264.28C46.87 263.56 47.58 262.84 48.28 262.1C48.99 261.37 49.69 260.63 50.4 259.88C51.1 259.13 51.8 258.37 52.5 257.61C53.2 256.84 53.89 256.07 54.59 255.3C55.28 254.53 55.98 253.75 56.67 252.96C57.36 252.18 58.05 251.4 58.74 250.61C59.43 249.82 60.12 249.03 60.81 248.25C61.49 247.46 62.18 246.67 62.86 245.88C63.55 245.09 64.23 244.3 64.91 243.51C65.59 242.73 66.28 241.94 66.96 241.16C67.64 240.38 68.32 239.61 69 238.83C69.68 238.06 70.35 237.3 71.03 236.53C71.71 235.77 72.39 235.02 73.07 234.27C73.74 233.53 74.42 232.79 75.1 232.05C75.78 231.33 76.45 230.6 77.13 229.89C77.81 229.18 78.48 228.48 79.17 227.78C79.85 227.09 80.54 226.41 81.24 225.73C81.94 225.05 82.64 224.38 83.36 223.71C84.09 223.04 84.83 222.38 85.59 221.72C86.35 221.06 87.13 220.4 87.93 219.75C88.74 219.09 89.57 218.43 90.43 217.78C91.3 217.12 92.19 216.46 93.11 215.81C94.05 215.14 95.01 214.47 96 213.82C97 213.15 98.03 212.49 99.07 211.87C100.1 211.25 101.15 210.64 102.21 210.1C103.23 209.58 104.27 209.08 105.3 208.67C106.27 208.29 107.26 207.94 108.22 207.73C109.11 207.53 110.02 207.38 110.86 207.42C111.64 207.45 112.43 207.58 113.1 207.89C113.76 208.19 114.36 208.68 114.84 209.23C115.35 209.8 115.74 210.54 116.05 211.29C116.37 212.07 116.58 212.96 116.7 213.84C116.83 214.75 116.85 215.73 116.77 216.67C116.7 217.63 116.53 218.62 116.26 219.56C115.98 220.5 115.59 221.43 115.14 222.31C114.68 223.21 114.12 224.08 113.52 224.92C112.91 225.77 112.22 226.59 111.51 227.39C110.79 228.2 110.01 228.98 109.22 229.75C108.42 230.53 107.58 231.27 106.75 232.02C105.92 232.76 105.07 233.49 104.23 234.22C103.41 234.94 102.58 235.65 101.76 236.36C100.95 237.07 100.16 237.77 99.37 238.47C98.58 239.17 97.81 239.86 97.04 240.55C96.28 241.24 95.53 241.92 94.78 242.61C94.04 243.29 93.3 243.97 92.57 244.65C91.84 245.33 91.12 246.01 90.4 246.69C89.68 247.37 88.97 248.05 88.26 248.73C87.55 249.41 86.85 250.1 86.15 250.79C85.45 251.47 84.75 252.17 84.05 252.86C83.35 253.56 82.65 254.26 81.96 254.97C81.26 255.68 80.56 256.39 79.86 257.11C79.16 257.84 78.46 258.57 77.75 259.3C77.04 260.05 76.33 260.79 75.62 261.55C74.9 262.31 74.18 263.08 73.46 263.86C72.73 264.65 71.99 265.44 71.26 266.24C70.51 267.06 69.75 267.89 69 268.71L39 275Z" fill="#f5c87d" stroke="rgba(40,25,10,0.75)" stroke-width="0.5"/>
<path d="M47.92 268.5C48.69 267.77 49.46 267.04 50.22 266.32C50.98 265.59 51.73 264.86 52.48 264.14C53.22 263.41 53.97 262.69 54.7 261.96C55.44 261.24 56.17 260.51 56.9 259.79C57.62 259.06 58.34 258.34 59.06 257.61C59.78 256.88 60.49 256.15 61.2 255.42C61.9 254.69 62.61 253.96 63.31 253.23C64.01 252.5 64.7 251.76 65.4 251.03C66.09 250.29 66.78 249.55 67.46 248.81C68.15 248.07 68.83 247.32 69.51 246.57C70.19 245.82 70.87 245.07 71.54 244.32C72.21 243.56 72.89 242.8 73.55 242.04C74.22 241.27 74.89 240.51 75.56 239.73C76.22 238.96 76.89 238.18 77.55 237.4C78.21 236.62 78.87 235.83 79.53 235.03C80.19 234.24 80.85 233.44 81.52 232.64C82.18 231.85 82.85 231.04 83.53 230.25C84.21 229.45 84.9 228.66 85.6 227.88C86.31 227.09 87.03 226.31 87.77 225.55C88.51 224.79 89.27 224.03 90.05 223.3C90.84 222.56 91.65 221.83 92.48 221.14C93.33 220.43 94.2 219.75 95.09 219.1C96 218.44 96.94 217.8 97.88 217.22C98.81 216.66 99.77 216.11 100.72 215.67C101.61 215.25 102.52 214.85 103.4 214.61C104.2 214.4 105.03 214.21 105.76 214.25C106.41 214.28 107.1 214.41 107.6 214.75C108.1 215.09 108.49 215.67 108.75 216.26C109.05 216.93 109.16 217.77 109.21 218.59C109.26 219.47 109.17 220.44 109.01 221.36C108.84 222.32 108.56 223.32 108.19 224.25C107.83 225.18 107.35 226.08 106.82 226.95C106.29 227.82 105.65 228.65 104.99 229.45C104.31 230.26 103.56 231.03 102.8 231.78C102.02 232.54 101.19 233.26 100.35 233.98C99.5 234.7 98.62 235.4 97.74 236.09C96.87 236.78 95.97 237.46 95.09 238.14C94.22 238.82 93.34 239.49 92.49 240.18C91.65 240.86 90.83 241.54 90.03 242.23C89.25 242.91 88.48 243.6 87.73 244.3C86.99 244.99 86.27 245.7 85.56 246.4C84.85 247.1 84.16 247.81 83.48 248.52C82.8 249.23 82.14 249.95 81.48 250.67C80.82 251.39 80.16 252.11 79.51 252.84C78.86 253.56 78.22 254.29 77.57 255.02C76.91 255.76 76.26 256.5 75.61 257.23C74.94 257.98 74.28 258.72 73.61 259.46C72.93 260.21 72.24 260.97 71.54 261.71C70.83 262.47 70.11 263.23 69.37 263.98C68.62 264.75 67.86 265.51 67.08 266.27C66.29 267.05 65.45 267.81 64.64 268.58L45 275Z" fill="#fff0c0" stroke="rgba(40,25,10,0.75)" stroke-width="0.5"/>
</g>
<text x="37.2" y="166.9" font-size="15" fill="#fff">0.15<tspan font-family="Liberation Serif" font-style="italic" font-size="15.5" dx="0.3">π</tspan></text>
<line x1="33.1" y1="260.7" x2="33.1" y2="265.7" stroke="#cfcfcf" stroke-width="1"/>
<text x="33.1" y="279.5" font-size="10" fill="#000" text-anchor="middle">5</text>
<line x1="25.6" y1="259.1" x2="31.1" y2="259.1" stroke="#cfcfcf" stroke-width="1"/>
<text x="22.5" y="263.2" font-size="10" fill="#000" text-anchor="end">5</text>
<line x1="59.9" y1="260.7" x2="59.9" y2="265.7" stroke="#cfcfcf" stroke-width="1"/>
<text x="59.9" y="279.5" font-size="10" fill="#000" text-anchor="middle">6</text>
<line x1="25.6" y1="232.13" x2="31.1" y2="232.13" stroke="#cfcfcf" stroke-width="1"/>
<text x="22.5" y="236.23" font-size="10" fill="#000" text-anchor="end">6</text>
<line x1="86.7" y1="260.7" x2="86.7" y2="265.7" stroke="#cfcfcf" stroke-width="1"/>
<text x="86.7" y="279.5" font-size="10" fill="#000" text-anchor="middle">7</text>
<line x1="25.6" y1="205.15" x2="31.1" y2="205.15" stroke="#cfcfcf" stroke-width="1"/>
<text x="22.5" y="209.25" font-size="10" fill="#000" text-anchor="end">7</text>
<line x1="113.5" y1="260.7" x2="113.5" y2="265.7" stroke="#cfcfcf" stroke-width="1"/>
<text x="113.5" y="279.5" font-size="10" fill="#000" text-anchor="middle">8</text>
<line x1="25.6" y1="178.18" x2="31.1" y2="178.18" stroke="#cfcfcf" stroke-width="1"/>
<text x="22.5" y="182.28" font-size="10" fill="#000" text-anchor="end">8</text>
<line x1="140.3" y1="260.7" x2="140.3" y2="265.7" stroke="#cfcfcf" stroke-width="1"/>
<text x="140.3" y="279.5" font-size="10" fill="#000" text-anchor="middle">9</text>
<line x1="25.6" y1="151.2" x2="31.1" y2="151.2" stroke="#cfcfcf" stroke-width="1"/>
<text x="22.5" y="155.3" font-size="10" fill="#000" text-anchor="end">9</text>
<rect x="157" y="147.4" width="16" height="19.23" fill="#fff0c0"/>
<rect x="157" y="166.33" width="16" height="19.23" fill="#f5c87d"/>
<rect x="157" y="185.26" width="16" height="19.23" fill="#edb163"/>
<rect x="157" y="204.19" width="16" height="19.23" fill="#e39f4f"/>
<rect x="157" y="223.12" width="16" height="19.23" fill="#a78b75"/>
<rect x="157" y="242.05" width="16" height="19.23" fill="#70769a"/>
<rect x="157" y="260.98" width="16" height="19.63" fill="#25548c"/>
<line x1="173" y1="166.33" x2="177.8" y2="166.33" stroke="#d9d9d9" stroke-width="1"/>
<line x1="157" y1="166.33" x2="173" y2="166.33" stroke="rgba(40,25,10,0.75)" stroke-width="0.6"/>
<text x="181.2" y="170.23" font-size="10" fill="#000" letter-spacing="-0.05">0.0384</text>
<line x1="173" y1="185.26" x2="177.8" y2="185.26" stroke="#d9d9d9" stroke-width="1"/>
<line x1="157" y1="185.26" x2="173" y2="185.26" stroke="rgba(40,25,10,0.75)" stroke-width="0.6"/>
<text x="181.2" y="189.16" font-size="10" fill="#000" letter-spacing="-0.05">0.0320</text>
<line x1="173" y1="204.19" x2="177.8" y2="204.19" stroke="#d9d9d9" stroke-width="1"/>
<line x1="157" y1="204.19" x2="173" y2="204.19" stroke="rgba(40,25,10,0.75)" stroke-width="0.6"/>
<text x="181.2" y="208.09" font-size="10" fill="#000" letter-spacing="-0.05">0.0256</text>
<line x1="173" y1="223.12" x2="177.8" y2="223.12" stroke="#d9d9d9" stroke-width="1"/>
<line x1="157" y1="223.12" x2="173" y2="223.12" stroke="rgba(40,25,10,0.75)" stroke-width="0.6"/>
<text x="181.2" y="227.02" font-size="10" fill="#000" letter-spacing="-0.05">0.0192</text>
<line x1="173" y1="242.05" x2="177.8" y2="242.05" stroke="#d9d9d9" stroke-width="1"/>
<line x1="157" y1="242.05" x2="173" y2="242.05" stroke="rgba(40,25,10,0.75)" stroke-width="0.6"/>
<text x="181.2" y="245.95" font-size="10" fill="#000" letter-spacing="-0.05">0.0128</text>
<line x1="173" y1="260.98" x2="177.8" y2="260.98" stroke="#d9d9d9" stroke-width="1"/>
<line x1="157" y1="260.98" x2="173" y2="260.98" stroke="rgba(40,25,10,0.75)" stroke-width="0.6"/>
<text x="181.2" y="264.88" font-size="10" fill="#000" letter-spacing="-0.05">0.0064</text>
<text x="87.1" y="298.9" font-size="10.5" fill="#000" text-anchor="middle">log(k<tspan font-size="7.3" dy="1.1">R</tspan><tspan dy="-1.1">)</tspan></text>
<text transform="translate(8.6 204.6) rotate(-90)" font-size="10.5" fill="#000" text-anchor="middle">log(k<tspan font-size="7.3" dy="1.1">F</tspan><tspan dy="-1.1">)</tspan></text>
</g>
<g id="panel5">
<rect x="236.1" y="149.1" width="111.4" height="111.6" fill="#fff" stroke="#cdcdcd" stroke-width="1"/>
<g clip-path="url(#c5)">
<rect x="237" y="150" width="109.6" height="109.8" fill="#25548c"/>
<path d="M231.94 268.86C232.68 268.13 233.42 267.4 234.15 266.67C234.89 265.94 235.62 265.21 236.35 264.48C237.08 263.75 237.82 263.02 238.54 262.29C239.27 261.56 240 260.83 240.73 260.11C241.45 259.38 242.18 258.65 242.9 257.92C243.62 257.19 244.34 256.47 245.07 255.74C245.79 255.01 246.51 254.29 247.23 253.56C247.95 252.83 248.66 252.11 249.38 251.38C250.1 250.66 250.82 249.93 251.53 249.21C252.25 248.48 252.97 247.76 253.68 247.04C254.4 246.31 255.12 245.59 255.83 244.87C256.55 244.15 257.26 243.42 257.98 242.7C258.7 241.98 259.41 241.26 260.13 240.54C260.85 239.82 261.56 239.1 262.28 238.38C263 237.66 263.71 236.95 264.43 236.23C265.15 235.51 265.87 234.79 266.59 234.08C267.31 233.36 268.03 232.65 268.75 231.93C269.48 231.22 270.2 230.5 270.92 229.79C271.65 229.07 272.37 228.36 273.1 227.65C273.83 226.94 274.56 226.23 275.29 225.52C276.02 224.81 276.75 224.1 277.48 223.39C278.21 222.68 278.95 221.97 279.69 221.26C280.42 220.56 281.16 219.85 281.9 219.15C282.65 218.44 283.39 217.74 284.14 217.03C284.88 216.33 285.63 215.63 286.38 214.93C287.13 214.22 287.89 213.52 288.64 212.82C289.4 212.12 290.16 211.42 290.92 210.73C291.68 210.03 292.45 209.33 293.21 208.64C293.98 207.94 294.75 207.25 295.53 206.57C296.31 205.88 297.09 205.2 297.87 204.52C298.66 203.84 299.45 203.17 300.24 202.51C301.04 201.85 301.84 201.2 302.64 200.56C303.45 199.91 304.26 199.28 305.08 198.66C305.9 198.04 306.73 197.43 307.56 196.84C308.39 196.25 309.23 195.67 310.08 195.1C310.93 194.54 311.79 193.99 312.65 193.46C313.52 192.94 314.39 192.42 315.28 191.93C316.16 191.44 317.05 190.97 317.95 190.52C318.85 190.07 319.77 189.64 320.69 189.24C321.61 188.84 322.55 188.45 323.49 188.1C324.43 187.75 325.39 187.41 326.36 187.12C327.32 186.82 328.3 186.54 329.28 186.32C330.26 186.1 331.24 185.91 332.22 185.81C333.18 185.72 334.16 185.66 335.11 185.73C336.04 185.79 336.99 185.92 337.88 186.19C338.78 186.45 339.67 186.82 340.49 187.32C341.34 187.83 342.14 188.49 342.87 189.25C343.65 190.04 344.33 191.03 344.97 192.01C345.64 193.03 346.24 194.17 346.81 195.26C347.38 196.33 347.89 197.47 348.41 198.51C348.88 199.47 349.32 200.47 349.79 201.29C350.18 201.98 350.58 202.52 350.98 203.13L355 275L232 275Z" fill="#70769a" stroke="rgba(40,25,10,0.75)" stroke-width="0.5"/>
<path d="M241.52 268.82C242.22 268.06 242.92 267.3 243.62 266.55C244.33 265.79 245.04 265.04 245.75 264.3C246.46 263.55 247.18 262.81 247.9 262.07C248.61 261.33 249.34 260.59 250.06 259.86C250.78 259.13 251.51 258.39 252.24 257.67C252.97 256.94 253.7 256.21 254.43 255.48C255.16 254.76 255.9 254.03 256.63 253.31C257.37 252.59 258.1 251.87 258.84 251.14C259.57 250.42 260.31 249.7 261.05 248.98C261.78 248.26 262.52 247.54 263.26 246.82C263.99 246.1 264.73 245.38 265.46 244.66C266.2 243.94 266.93 243.22 267.67 242.49C268.4 241.77 269.13 241.05 269.86 240.32C270.59 239.59 271.32 238.87 272.04 238.14C272.77 237.41 273.49 236.67 274.21 235.94C274.93 235.2 275.65 234.47 276.36 233.73C277.08 232.99 277.79 232.25 278.5 231.5C279.21 230.76 279.92 230.02 280.64 229.27C281.35 228.53 282.06 227.79 282.77 227.05C283.48 226.31 284.19 225.57 284.91 224.84C285.63 224.1 286.35 223.37 287.07 222.64C287.79 221.92 288.52 221.19 289.25 220.48C289.98 219.76 290.72 219.05 291.46 218.34C292.21 217.64 292.95 216.94 293.71 216.25C294.47 215.57 295.23 214.89 296.01 214.22C296.78 213.55 297.56 212.89 298.35 212.24C299.15 211.59 299.95 210.95 300.76 210.33C301.58 209.7 302.4 209.09 303.24 208.49C304.07 207.88 304.92 207.29 305.77 206.71C306.62 206.13 307.49 205.55 308.35 204.99C309.22 204.42 310.1 203.86 310.98 203.3C311.86 202.74 312.75 202.19 313.64 201.63C314.53 201.08 315.42 200.53 316.31 199.98C317.21 199.43 318.1 198.85 319.01 198.33C319.91 197.81 320.82 197.28 321.76 196.86C322.69 196.45 323.66 196.09 324.63 195.85C325.59 195.61 326.59 195.46 327.56 195.42C328.51 195.38 329.48 195.43 330.4 195.61C331.3 195.79 332.2 196.08 333.03 196.47C333.86 196.86 334.65 197.38 335.38 197.96C336.13 198.56 336.83 199.26 337.49 199.99C338.16 200.75 338.79 201.6 339.38 202.46C339.99 203.34 340.55 204.29 341.1 205.24C341.65 206.22 342.16 207.23 342.66 208.25C343.17 209.27 343.65 210.32 344.12 211.36C344.6 212.4 345.05 213.45 345.5 214.48C345.95 215.5 346.39 216.52 346.84 217.5C347.28 218.46 347.71 219.41 348.17 220.31C348.61 221.17 349.05 222.02 349.52 222.8C349.97 223.54 350.46 224.18 350.93 224.88L355 275L240 275Z" fill="#a78b75" stroke="rgba(40,25,10,0.75)" stroke-width="0.5"/>
<path d="M248.77 268.7C249.55 267.98 250.32 267.26 251.1 266.54C251.87 265.82 252.63 265.11 253.4 264.39C254.16 263.67 254.93 262.95 255.69 262.24C256.45 261.52 257.2 260.8 257.96 260.09C258.71 259.37 259.47 258.66 260.22 257.94C260.97 257.23 261.72 256.51 262.46 255.79C263.21 255.08 263.96 254.37 264.7 253.65C265.44 252.94 266.19 252.22 266.93 251.51C267.67 250.79 268.41 250.08 269.15 249.37C269.89 248.65 270.62 247.94 271.36 247.23C272.1 246.51 272.84 245.8 273.57 245.08C274.31 244.37 275.04 243.66 275.78 242.94C276.52 242.23 277.25 241.51 277.99 240.8C278.72 240.08 279.46 239.37 280.2 238.65C280.93 237.94 281.67 237.22 282.41 236.51C283.14 235.79 283.88 235.08 284.62 234.36C285.36 233.64 286.1 232.93 286.84 232.21C287.58 231.49 288.32 230.78 289.07 230.06C289.81 229.34 290.56 228.62 291.3 227.9C292.05 227.18 292.8 226.46 293.55 225.74C294.3 225.02 295.05 224.3 295.81 223.58C296.56 222.86 297.32 222.14 298.08 221.42C298.84 220.69 299.6 219.97 300.37 219.24C301.13 218.52 301.9 217.79 302.67 217.07C303.44 216.34 304.22 215.61 305 214.89C305.77 214.16 306.55 213.43 307.34 212.72C308.13 212.01 308.92 211.3 309.74 210.63C310.55 209.97 311.36 209.32 312.2 208.71C313.04 208.11 313.89 207.54 314.77 207.03C315.64 206.52 316.53 206.05 317.45 205.66C318.36 205.28 319.31 204.92 320.27 204.7C321.21 204.48 322.19 204.33 323.14 204.34C324.08 204.35 325.03 204.5 325.94 204.75C326.86 205.01 327.77 205.42 328.64 205.88C329.53 206.34 330.38 206.92 331.21 207.53C332.05 208.14 332.85 208.83 333.63 209.53C334.42 210.24 335.17 210.98 335.91 211.74C336.64 212.49 337.35 213.28 338.06 214.07C338.76 214.86 339.44 215.67 340.12 216.48C340.8 217.28 341.47 218.1 342.15 218.92C342.82 219.73 343.49 220.54 344.17 221.34C344.85 222.14 345.53 222.93 346.23 223.7C346.92 224.47 347.63 225.23 348.36 225.95C349.09 226.67 349.84 227.38 350.62 228.04C351.4 228.71 352.23 229.3 353.03 229.93L355 275L246 275Z" fill="#e39f4f" stroke="rgba(40,25,10,0.75)" stroke-width="0.5"/>
<path d="M257.31 268.72C258.1 268 258.9 267.29 259.68 266.57C260.47 265.85 261.24 265.13 262.02 264.4C262.78 263.68 263.55 262.95 264.31 262.22C265.06 261.49 265.81 260.76 266.56 260.03C267.31 259.3 268.05 258.56 268.79 257.82C269.52 257.09 270.26 256.35 270.99 255.61C271.72 254.87 272.44 254.13 273.17 253.39C273.89 252.65 274.61 251.91 275.33 251.16C276.05 250.42 276.76 249.68 277.48 248.93C278.2 248.19 278.91 247.45 279.63 246.71C280.34 245.96 281.06 245.22 281.77 244.48C282.49 243.73 283.2 242.99 283.92 242.25C284.64 241.51 285.36 240.77 286.08 240.03C286.8 239.29 287.52 238.55 288.25 237.82C288.98 237.08 289.71 236.34 290.44 235.61C291.17 234.88 291.91 234.15 292.65 233.42C293.39 232.69 294.14 231.96 294.89 231.24C295.65 230.51 296.4 229.79 297.17 229.07C297.93 228.35 298.7 227.63 299.48 226.92C300.26 226.21 301.04 225.5 301.84 224.79C302.63 224.08 303.43 223.38 304.24 222.68C305.05 221.98 305.87 221.29 306.7 220.6C307.53 219.91 308.36 219.21 309.21 218.54C310.06 217.88 310.91 217.22 311.79 216.62C312.65 216.03 313.53 215.45 314.44 214.96C315.32 214.49 316.23 214.05 317.16 213.73C318.07 213.41 319.01 213.16 319.96 213.05C320.9 212.94 321.88 212.95 322.84 213.08C323.82 213.21 324.81 213.5 325.77 213.84C326.74 214.18 327.69 214.64 328.61 215.13C329.53 215.62 330.41 216.19 331.27 216.79C332.13 217.38 332.96 218.04 333.77 218.71C334.58 219.38 335.37 220.1 336.15 220.82C336.93 221.54 337.69 222.3 338.45 223.05C339.22 223.8 339.97 224.57 340.72 225.33C341.48 226.09 342.23 226.85 343 227.58C343.77 228.32 344.54 229.05 345.33 229.74C346.12 230.42 346.92 231.1 347.76 231.72C348.58 232.33 349.43 232.92 350.31 233.45C351.2 233.97 352.14 234.39 353.05 234.86L355 275L253 275Z" fill="#edb163" stroke="rgba(40,25,10,0.75)" stroke-width="0.5"/>
<path d="M265.41 268.61C266.17 267.95 266.94 267.29 267.7 266.61C268.46 265.94 269.2 265.25 269.95 264.56C270.69 263.86 271.43 263.16 272.16 262.45C272.89 261.74 273.62 261.02 274.34 260.3C275.07 259.57 275.79 258.84 276.5 258.1C277.22 257.37 277.93 256.63 278.64 255.88C279.35 255.14 280.05 254.39 280.75 253.64C281.46 252.88 282.16 252.13 282.86 251.37C283.56 250.61 284.26 249.85 284.96 249.09C285.66 248.33 286.36 247.57 287.06 246.81C287.76 246.05 288.46 245.29 289.16 244.53C289.86 243.77 290.56 243.01 291.27 242.25C291.97 241.5 292.68 240.75 293.39 240C294.1 239.25 294.81 238.5 295.52 237.76C296.24 237.02 296.96 236.28 297.68 235.55C298.41 234.82 299.14 234.09 299.87 233.37C300.6 232.65 301.34 231.94 302.09 231.23C302.83 230.53 303.58 229.83 304.34 229.14C305.1 228.46 305.87 227.78 306.64 227.11C307.41 226.44 308.19 225.78 308.98 225.13C309.77 224.49 310.57 223.85 311.37 223.22C312.18 222.6 313 221.99 313.82 221.39C314.65 220.79 315.48 220.18 316.33 219.63C317.17 219.09 318.02 218.52 318.91 218.12C319.76 217.75 320.66 217.41 321.56 217.3C322.45 217.2 323.39 217.3 324.28 217.51C325.2 217.72 326.11 218.13 326.99 218.58C327.89 219.04 328.76 219.63 329.6 220.25C330.45 220.87 331.27 221.58 332.07 222.29C332.88 223.02 333.66 223.8 334.44 224.56C335.22 225.33 335.98 226.14 336.75 226.91C337.52 227.68 338.27 228.46 339.04 229.19C339.8 229.9 340.57 230.59 341.35 231.25C342.12 231.89 342.9 232.47 343.69 233.07C344.47 233.66 345.26 234.21 346.04 234.8C346.82 235.38 347.62 235.96 348.39 236.59C349.18 237.22 349.96 237.88 350.72 238.59C351.5 239.33 352.24 240.17 353.01 240.97L355 275L260 275Z" fill="#f5c87d" stroke="rgba(40,25,10,0.75)" stroke-width="0.5"/>
<path d="M271.99 268.81C272.73 268.03 273.46 267.26 274.19 266.49C274.93 265.72 275.66 264.95 276.4 264.18C277.14 263.42 277.87 262.66 278.61 261.9C279.35 261.14 280.08 260.38 280.82 259.62C281.56 258.87 282.3 258.11 283.04 257.36C283.78 256.61 284.52 255.86 285.26 255.11C286 254.37 286.74 253.62 287.48 252.88C288.22 252.13 288.97 251.39 289.71 250.65C290.45 249.91 291.19 249.17 291.93 248.43C292.68 247.69 293.42 246.95 294.16 246.21C294.9 245.48 295.64 244.74 296.39 244C297.13 243.27 297.87 242.53 298.62 241.79C299.36 241.05 300.11 240.3 300.86 239.55C301.61 238.79 302.36 238.03 303.11 237.27C303.87 236.49 304.63 235.71 305.39 234.92C306.16 234.12 306.92 233.31 307.7 232.52C308.48 231.73 309.26 230.94 310.08 230.2C310.88 229.47 311.69 228.75 312.55 228.12C313.38 227.5 314.24 226.91 315.14 226.44C316.03 225.98 316.96 225.6 317.9 225.32C318.83 225.05 319.81 224.87 320.78 224.79C321.74 224.71 322.73 224.73 323.7 224.84C324.68 224.94 325.66 225.15 326.61 225.44C327.58 225.73 328.52 226.12 329.44 226.56C330.38 227.02 331.29 227.56 332.18 228.13C333.09 228.72 333.98 229.37 334.85 230.04C335.74 230.71 336.6 231.44 337.46 232.16C338.33 232.89 339.18 233.65 340.04 234.39C340.89 235.14 341.74 235.9 342.59 236.63C343.44 237.35 344.28 238.07 345.14 238.75C345.99 239.41 346.84 240.06 347.71 240.65C348.56 241.21 349.42 241.76 350.31 242.21C351.18 242.65 352.08 242.95 352.96 243.33L355 275L270 275Z" fill="#fff0c0" stroke="rgba(40,25,10,0.75)" stroke-width="0.5"/>
<path d="M296.13 268.11C296.76 267.4 297.38 266.7 298.02 265.98C298.68 265.23 299.35 264.46 300.03 263.7C300.72 262.91 301.43 262.11 302.15 261.32C302.87 260.52 303.61 259.71 304.37 258.91C305.13 258.11 305.9 257.31 306.69 256.52C307.48 255.74 308.28 254.96 309.1 254.21C309.92 253.46 310.75 252.72 311.6 252.02C312.44 251.33 313.3 250.66 314.18 250.03C315.04 249.41 315.93 248.81 316.83 248.27C317.72 247.74 318.62 247.24 319.55 246.81C320.46 246.39 321.39 246.01 322.33 245.71C323.26 245.41 324.21 245.17 325.16 245.01C326.12 244.86 327.08 244.78 328.05 244.78C329.02 244.79 330 244.88 330.97 245.04C331.95 245.2 332.93 245.45 333.9 245.75C334.88 246.05 335.85 246.43 336.8 246.85C337.77 247.27 338.72 247.76 339.65 248.29C340.59 248.82 341.51 249.41 342.41 250.03C343.31 250.64 344.2 251.31 345.05 252C345.91 252.69 346.74 253.41 347.54 254.16C348.34 254.9 349.11 255.67 349.85 256.45C350.58 257.22 351.25 258.03 351.95 258.82L355 275L296 275Z" fill="#f5c87d" stroke="rgba(40,25,10,0.75)" stroke-width="0.5"/>
<path d="M304.04 268.12C304.65 267.35 305.23 266.58 305.87 265.8C306.53 264.99 307.22 264.15 307.93 263.33C308.66 262.48 309.42 261.63 310.2 260.8C310.99 259.96 311.81 259.12 312.65 258.32C313.5 257.52 314.37 256.74 315.26 256.01C316.15 255.29 317.06 254.59 317.99 253.97C318.91 253.36 319.85 252.78 320.82 252.31C321.76 251.84 322.72 251.43 323.7 251.13C324.66 250.85 325.65 250.63 326.63 250.56C327.6 250.48 328.6 250.53 329.56 250.67C330.54 250.82 331.52 251.1 332.47 251.44C333.44 251.8 334.39 252.26 335.31 252.78C336.25 253.31 337.17 253.93 338.05 254.58C338.95 255.25 339.82 255.99 340.65 256.75C341.49 257.52 342.3 258.35 343.08 259.19C343.85 260.04 344.59 260.92 345.29 261.81C345.98 262.69 346.64 263.6 347.26 264.51C347.86 265.39 348.38 266.29 348.94 267.18L349 275L304 275Z" fill="#edb163" stroke="rgba(40,25,10,0.75)" stroke-width="0.5"/>
<path d="M310.01 268.1C310.56 267.08 311.05 266.02 311.67 265.03C312.3 264.05 313 263.09 313.76 262.19C314.51 261.3 315.33 260.45 316.2 259.68C317.05 258.92 317.97 258.2 318.91 257.59C319.85 256.99 320.83 256.45 321.83 256.02C322.82 255.61 323.85 255.27 324.89 255.08C325.91 254.89 326.97 254.8 328 254.85C329.04 254.9 330.09 255.09 331.1 255.38C332.13 255.67 333.15 256.09 334.12 256.58C335.11 257.08 336.07 257.69 336.99 258.36C337.91 259.03 338.8 259.8 339.63 260.61C340.47 261.42 341.26 262.31 341.99 263.24C342.71 264.16 343.32 265.17 343.99 266.14L344 275L310 275Z" fill="#e39f4f" stroke="rgba(40,25,10,0.75)" stroke-width="0.5"/>
</g>
<text x="242.2" y="166.9" font-size="15" fill="#fff">0.25<tspan font-family="Liberation Serif" font-style="italic" font-size="15.5" dx="0.3">π</tspan></text>
<line x1="238.1" y1="260.7" x2="238.1" y2="265.7" stroke="#cfcfcf" stroke-width="1"/>
<text x="238.1" y="279.5" font-size="10" fill="#000" text-anchor="middle">5</text>
<line x1="230.6" y1="259.1" x2="236.1" y2="259.1" stroke="#cfcfcf" stroke-width="1"/>
<text x="227.5" y="263.2" font-size="10" fill="#000" text-anchor="end">5</text>
<line x1="264.9" y1="260.7" x2="264.9" y2="265.7" stroke="#cfcfcf" stroke-width="1"/>
<text x="264.9" y="279.5" font-size="10" fill="#000" text-anchor="middle">6</text>
<line x1="230.6" y1="232.13" x2="236.1" y2="232.13" stroke="#cfcfcf" stroke-width="1"/>
<text x="227.5" y="236.23" font-size="10" fill="#000" text-anchor="end">6</text>
<line x1="291.7" y1="260.7" x2="291.7" y2="265.7" stroke="#cfcfcf" stroke-width="1"/>
<text x="291.7" y="279.5" font-size="10" fill="#000" text-anchor="middle">7</text>
<line x1="230.6" y1="205.15" x2="236.1" y2="205.15" stroke="#cfcfcf" stroke-width="1"/>
<text x="227.5" y="209.25" font-size="10" fill="#000" text-anchor="end">7</text>
<line x1="318.5" y1="260.7" x2="318.5" y2="265.7" stroke="#cfcfcf" stroke-width="1"/>
<text x="318.5" y="279.5" font-size="10" fill="#000" text-anchor="middle">8</text>
<line x1="230.6" y1="178.18" x2="236.1" y2="178.18" stroke="#cfcfcf" stroke-width="1"/>
<text x="227.5" y="182.28" font-size="10" fill="#000" text-anchor="end">8</text>
<line x1="345.3" y1="260.7" x2="345.3" y2="265.7" stroke="#cfcfcf" stroke-width="1"/>
<text x="345.3" y="279.5" font-size="10" fill="#000" text-anchor="middle">9</text>
<line x1="230.6" y1="151.2" x2="236.1" y2="151.2" stroke="#cfcfcf" stroke-width="1"/>
<text x="227.5" y="155.3" font-size="10" fill="#000" text-anchor="end">9</text>
<rect x="363.2" y="147.4" width="15.8" height="19.23" fill="#fff0c0"/>
<rect x="363.2" y="166.33" width="15.8" height="19.23" fill="#f5c87d"/>
<rect x="363.2" y="185.26" width="15.8" height="19.23" fill="#edb163"/>
<rect x="363.2" y="204.19" width="15.8" height="19.23" fill="#e39f4f"/>
<rect x="363.2" y="223.12" width="15.8" height="19.23" fill="#a78b75"/>
<rect x="363.2" y="242.05" width="15.8" height="19.23" fill="#70769a"/>
<rect x="363.2" y="260.98" width="15.8" height="19.63" fill="#25548c"/>
<line x1="379" y1="166.33" x2="383.8" y2="166.33" stroke="#d9d9d9" stroke-width="1"/>
<line x1="363.2" y1="166.33" x2="379" y2="166.33" stroke="rgba(40,25,10,0.75)" stroke-width="0.6"/>
<text x="387.2" y="170.23" font-size="10" fill="#000" letter-spacing="-0.05">0.090</text>
<line x1="379" y1="185.26" x2="383.8" y2="185.26" stroke="#d9d9d9" stroke-width="1"/>
<line x1="363.2" y1="185.26" x2="379" y2="185.26" stroke="rgba(40,25,10,0.75)" stroke-width="0.6"/>
<text x="387.2" y="189.16" font-size="10" fill="#000" letter-spacing="-0.05">0.075</text>
<line x1="379" y1="204.19" x2="383.8" y2="204.19" stroke="#d9d9d9" stroke-width="1"/>
<line x1="363.2" y1="204.19" x2="379" y2="204.19" stroke="rgba(40,25,10,0.75)" stroke-width="0.6"/>
<text x="387.2" y="208.09" font-size="10" fill="#000" letter-spacing="-0.05">0.060</text>
<line x1="379" y1="223.12" x2="383.8" y2="223.12" stroke="#d9d9d9" stroke-width="1"/>
<line x1="363.2" y1="223.12" x2="379" y2="223.12" stroke="rgba(40,25,10,0.75)" stroke-width="0.6"/>
<text x="387.2" y="227.02" font-size="10" fill="#000" letter-spacing="-0.05">0.045</text>
<line x1="379" y1="242.05" x2="383.8" y2="242.05" stroke="#d9d9d9" stroke-width="1"/>
<line x1="363.2" y1="242.05" x2="379" y2="242.05" stroke="rgba(40,25,10,0.75)" stroke-width="0.6"/>
<text x="387.2" y="245.95" font-size="10" fill="#000" letter-spacing="-0.05">0.030</text>
<line x1="379" y1="260.98" x2="383.8" y2="260.98" stroke="#d9d9d9" stroke-width="1"/>
<line x1="363.2" y1="260.98" x2="379" y2="260.98" stroke="rgba(40,25,10,0.75)" stroke-width="0.6"/>
<text x="387.2" y="264.88" font-size="10" fill="#000" letter-spacing="-0.05">0.015</text>
<text x="292.1" y="298.9" font-size="10.5" fill="#000" text-anchor="middle">log(k<tspan font-size="7.3" dy="1.1">R</tspan><tspan dy="-1.1">)</tspan></text>
</g>
<g id="panel6">
<rect x="449.1" y="149.1" width="111.6" height="111.6" fill="#fff" stroke="#cdcdcd" stroke-width="1"/>
<g clip-path="url(#c6)">
<rect x="450" y="150" width="109.8" height="109.8" fill="#25548c"/>
<path d="M460.75 269.08C461.43 268.29 462.1 267.48 462.79 266.69C463.47 265.9 464.16 265.11 464.85 264.33C465.54 263.54 466.24 262.77 466.94 261.99C467.64 261.22 468.35 260.45 469.06 259.69C469.76 258.93 470.48 258.17 471.19 257.41C471.91 256.66 472.62 255.91 473.35 255.16C474.07 254.41 474.79 253.67 475.52 252.92C476.24 252.18 476.97 251.45 477.71 250.71C478.44 249.97 479.17 249.24 479.91 248.51C480.64 247.78 481.38 247.05 482.12 246.33C482.86 245.6 483.6 244.88 484.34 244.15C485.09 243.43 485.83 242.71 486.57 241.99C487.32 241.27 488.07 240.55 488.81 239.83C489.56 239.11 490.3 238.39 491.05 237.68C491.8 236.96 492.55 236.24 493.29 235.52C494.04 234.81 494.79 234.09 495.54 233.37C496.28 232.65 497.03 231.93 497.78 231.21C498.52 230.49 499.27 229.77 500.01 229.05C500.76 228.33 501.5 227.61 502.25 226.88C502.99 226.16 503.73 225.43 504.47 224.7C505.21 223.97 505.95 223.24 506.68 222.51C507.42 221.77 508.15 221.04 508.88 220.3C509.62 219.56 510.35 218.82 511.07 218.07C511.8 217.32 512.52 216.58 513.24 215.82C513.97 215.07 514.68 214.31 515.4 213.55C516.12 212.79 516.83 212.03 517.54 211.26C518.25 210.49 518.95 209.72 519.66 208.95C520.37 208.18 521.08 207.41 521.79 206.65C522.5 205.88 523.22 205.12 523.93 204.36C524.65 203.6 525.38 202.85 526.11 202.11C526.84 201.36 527.58 200.62 528.32 199.9C529.07 199.18 529.83 198.46 530.6 197.76C531.36 197.07 532.14 196.38 532.94 195.73C533.73 195.09 534.54 194.46 535.38 193.89C536.21 193.34 537.06 192.81 537.95 192.36C538.82 191.92 539.73 191.53 540.66 191.23C541.6 190.93 542.56 190.71 543.54 190.56C544.52 190.41 545.52 190.35 546.52 190.35C547.53 190.36 548.55 190.44 549.56 190.58C550.58 190.72 551.6 190.94 552.6 191.22C553.62 191.5 554.62 191.84 555.6 192.24C556.59 192.65 557.56 193.11 558.5 193.63C559.44 194.15 560.36 194.73 561.24 195.36C562.12 195.99 562.97 196.67 563.77 197.4C564.57 198.14 565.29 198.96 566.04 199.74L570 275L460 275Z" fill="#70769a" stroke="rgba(40,25,10,0.75)" stroke-width="0.5"/>
<path d="M479.49 268.8C480.31 268.15 481.16 267.53 481.94 266.85C482.72 266.17 483.46 265.44 484.18 264.7C484.89 263.97 485.57 263.19 486.23 262.41C486.9 261.63 487.54 260.82 488.17 260.01C488.8 259.2 489.42 258.37 490.03 257.55C490.65 256.72 491.25 255.89 491.87 255.06C492.48 254.24 493.1 253.41 493.73 252.6C494.36 251.79 495 250.99 495.66 250.21C496.32 249.43 497 248.67 497.71 247.93C498.42 247.18 499.16 246.48 499.89 245.76C500.63 245.05 501.39 244.36 502.12 243.64C502.85 242.93 503.58 242.2 504.29 241.47C505.01 240.74 505.71 239.99 506.43 239.26C507.14 238.53 507.86 237.8 508.61 237.09C509.35 236.39 510.11 235.69 510.88 235.01C511.64 234.32 512.43 233.65 513.21 232.99C514 232.32 514.8 231.67 515.6 231.01C516.4 230.36 517.2 229.71 518.01 229.06C518.81 228.41 519.62 227.76 520.42 227.11C521.22 226.46 522.02 225.81 522.81 225.14C523.6 224.48 524.38 223.82 525.16 223.14C525.93 222.46 526.69 221.78 527.44 221.08C528.18 220.38 528.92 219.68 529.63 218.95C530.34 218.22 531.04 217.48 531.71 216.72C532.38 215.95 533.04 215.17 533.67 214.38C534.3 213.57 534.91 212.76 535.49 211.92C536.08 211.08 536.64 210.21 537.18 209.33C537.72 208.45 538.2 207.52 538.74 206.63C539.28 205.75 539.76 204.81 540.42 204.02C541.07 203.24 541.82 202.49 542.66 201.92C543.5 201.35 544.49 200.89 545.46 200.6C546.42 200.31 547.47 200.16 548.45 200.18C549.43 200.2 550.42 200.4 551.35 200.7C552.31 200.99 553.23 201.46 554.12 201.96C555.04 202.48 555.91 203.12 556.77 203.77C557.63 204.42 558.46 205.16 559.27 205.89C560.08 206.61 560.87 207.38 561.65 208.11C562.4 208.82 563.14 209.56 563.88 210.22C564.58 210.85 565.27 211.41 565.97 212L570 275L481 275Z" fill="#a78b75" stroke="rgba(40,25,10,0.75)" stroke-width="0.5"/>
<path d="M487.25 268.84C487.96 268.08 488.68 267.33 489.38 266.56C490.09 265.79 490.78 265.01 491.47 264.23C492.16 263.45 492.85 262.65 493.53 261.86C494.21 261.06 494.89 260.26 495.56 259.46C496.24 258.65 496.91 257.84 497.59 257.04C498.26 256.23 498.94 255.42 499.61 254.62C500.29 253.81 500.96 253 501.64 252.2C502.32 251.4 503 250.6 503.69 249.81C504.37 249.02 505.06 248.23 505.76 247.45C506.46 246.67 507.16 245.89 507.87 245.13C508.58 244.37 509.3 243.61 510.02 242.87C510.75 242.13 511.49 241.4 512.23 240.68C512.98 239.96 513.73 239.25 514.49 238.54C515.25 237.83 516.01 237.14 516.78 236.44C517.55 235.75 518.33 235.06 519.11 234.37C519.89 233.68 520.68 233 521.47 232.31C522.26 231.63 523.05 230.95 523.85 230.26C524.64 229.57 525.44 228.88 526.24 228.19C527.04 227.5 527.84 226.8 528.64 226.1C529.44 225.39 530.24 224.68 531.04 223.96C531.84 223.24 532.63 222.51 533.43 221.77C534.23 221.04 535.02 220.3 535.82 219.57C536.62 218.85 537.42 218.13 538.24 217.45C539.05 216.77 539.86 216.1 540.7 215.48C541.52 214.88 542.35 214.29 543.22 213.78C544.06 213.27 544.93 212.8 545.82 212.42C546.7 212.05 547.61 211.72 548.54 211.5C549.46 211.29 550.42 211.15 551.38 211.12C552.35 211.08 553.34 211.14 554.32 211.29C555.32 211.44 556.34 211.69 557.32 212.01C558.34 212.34 559.35 212.77 560.33 213.27C561.34 213.78 562.34 214.38 563.3 215.04C564.28 215.72 565.21 216.55 566.16 217.31L570 275L488 275Z" fill="#e39f4f" stroke="rgba(40,25,10,0.75)" stroke-width="0.5"/>
<path d="M492.1 269C492.75 268.12 493.39 267.24 494.05 266.37C494.7 265.51 495.35 264.66 496.01 263.81C496.67 262.98 497.33 262.15 498 261.33C498.67 260.51 499.34 259.71 500.02 258.91C500.69 258.11 501.37 257.32 502.05 256.54C502.74 255.76 503.42 254.99 504.11 254.23C504.81 253.46 505.5 252.7 506.2 251.95C506.9 251.2 507.6 250.46 508.31 249.72C509.02 248.98 509.73 248.24 510.45 247.51C511.16 246.78 511.88 246.06 512.61 245.33C513.33 244.61 514.06 243.89 514.79 243.17C515.53 242.45 516.26 241.73 517 241.01C517.75 240.3 518.49 239.58 519.24 238.86C519.99 238.15 520.75 237.43 521.5 236.71C522.26 235.99 523.03 235.27 523.79 234.55C524.56 233.82 525.34 233.1 526.11 232.37C526.89 231.64 527.67 230.91 528.46 230.17C529.24 229.43 530.03 228.69 530.83 227.94C531.62 227.19 532.42 226.43 533.23 225.69C534.03 224.95 534.84 224.2 535.67 223.49C536.49 222.78 537.31 222.08 538.16 221.43C539 220.78 539.85 220.15 540.72 219.59C541.58 219.03 542.46 218.51 543.36 218.06C544.25 217.63 545.16 217.24 546.09 216.95C547.02 216.66 547.97 216.43 548.93 216.32C549.9 216.2 550.9 216.19 551.88 216.27C552.89 216.35 553.92 216.55 554.92 216.82C555.94 217.08 556.97 217.45 557.95 217.86C558.95 218.28 559.93 218.78 560.87 219.32C561.81 219.86 562.72 220.46 563.58 221.09C564.43 221.71 565.18 222.41 565.99 223.07L570 275L493 275Z" fill="#edb163" stroke="rgba(40,25,10,0.75)" stroke-width="0.5"/>
<path d="M498.05 268.8C498.7 267.96 499.36 267.12 500.02 266.29C500.67 265.45 501.33 264.61 501.99 263.78C502.65 262.94 503.31 262.11 503.97 261.27C504.64 260.44 505.3 259.61 505.97 258.78C506.64 257.95 507.31 257.12 507.98 256.3C508.66 255.47 509.33 254.65 510.02 253.83C510.7 253.02 511.38 252.2 512.07 251.39C512.76 250.58 513.46 249.77 514.16 248.97C514.86 248.17 515.56 247.37 516.28 246.58C516.99 245.79 517.7 245 518.43 244.22C519.15 243.44 519.88 242.66 520.62 241.89C521.36 241.12 522.1 240.36 522.85 239.6C523.61 238.84 524.37 238.09 525.13 237.35C525.9 236.61 526.68 235.88 527.47 235.15C528.25 234.42 529.05 233.71 529.85 233C530.66 232.29 531.47 231.59 532.29 230.9C533.12 230.2 533.95 229.52 534.8 228.85C535.64 228.18 536.5 227.51 537.37 226.87C538.23 226.23 539.11 225.59 540.01 225.01C540.9 224.44 541.8 223.88 542.73 223.41C543.64 222.94 544.58 222.5 545.54 222.17C546.49 221.85 547.46 221.58 548.44 221.43C549.43 221.29 550.45 221.23 551.46 221.31C552.49 221.39 553.55 221.61 554.58 221.93C555.65 222.26 556.73 222.75 557.77 223.27C558.82 223.79 559.86 224.42 560.85 225.04C561.83 225.65 562.78 226.32 563.68 226.94C564.51 227.52 565.26 228.09 566.06 228.66L570 275L499 275Z" fill="#f5c87d" stroke="rgba(40,25,10,0.75)" stroke-width="0.5"/>
<path d="M503.84 268.88C504.54 268 505.24 267.11 505.93 266.23C506.61 265.36 507.28 264.5 507.96 263.65C508.62 262.8 509.27 261.96 509.93 261.13C510.58 260.3 511.23 259.48 511.87 258.66C512.52 257.85 513.16 257.04 513.8 256.23C514.44 255.43 515.08 254.63 515.73 253.83C516.38 253.04 517.03 252.25 517.68 251.46C518.34 250.67 519 249.88 519.67 249.09C520.34 248.3 521.02 247.51 521.71 246.72C522.4 245.93 523.1 245.13 523.82 244.34C524.54 243.54 525.27 242.74 526.01 241.94C526.76 241.14 527.53 240.33 528.3 239.54C529.08 238.75 529.88 237.96 530.69 237.2C531.5 236.43 532.32 235.68 533.16 234.96C534 234.24 534.85 233.54 535.72 232.88C536.59 232.23 537.47 231.6 538.37 231.02C539.26 230.45 540.17 229.9 541.1 229.42C542.02 228.95 542.96 228.51 543.91 228.15C544.86 227.8 545.82 227.47 546.8 227.28C547.76 227.09 548.75 226.96 549.72 226.98C550.69 227.01 551.68 227.17 552.64 227.45C553.62 227.74 554.58 228.2 555.52 228.69C556.48 229.2 557.42 229.83 558.33 230.47C559.26 231.12 560.15 231.84 561.04 232.55C561.91 233.25 562.76 233.99 563.6 234.68C564.41 235.34 565.19 235.97 565.99 236.62L570 275L506 275Z" fill="#fff0c0" stroke="rgba(40,25,10,0.75)" stroke-width="0.5"/>
<path d="M521.06 265.98C521.81 265.25 522.56 264.53 523.32 263.79C524.08 263.04 524.85 262.28 525.63 261.51C526.42 260.74 527.21 259.95 528.01 259.17C528.82 258.39 529.63 257.61 530.46 256.83C531.28 256.06 532.12 255.28 532.97 254.53C533.82 253.77 534.68 253.03 535.56 252.31C536.43 251.59 537.32 250.88 538.23 250.21C539.12 249.54 540.04 248.9 540.97 248.29C541.89 247.69 542.83 247.11 543.8 246.59C544.75 246.06 545.72 245.57 546.71 245.14C547.69 244.72 548.69 244.33 549.7 244.01C550.72 243.69 551.75 243.42 552.79 243.23C553.84 243.03 554.91 242.9 555.98 242.84C557.06 242.78 558.16 242.8 559.26 242.9C560.38 243 561.51 243.18 562.64 243.44C563.8 243.71 564.96 244.15 566.13 244.51L570 275L521 275Z" fill="#f5c87d" stroke="rgba(40,25,10,0.75)" stroke-width="0.5"/>
<path d="M526.55 266.04C527.27 265.27 527.96 264.5 528.69 263.74C529.43 262.96 530.2 262.19 530.98 261.43C531.76 260.67 532.57 259.91 533.4 259.18C534.23 258.44 535.07 257.71 535.94 257.02C536.81 256.32 537.7 255.65 538.6 255.01C539.51 254.37 540.43 253.76 541.37 253.19C542.31 252.63 543.26 252.1 544.23 251.63C545.2 251.15 546.18 250.72 547.18 250.35C548.17 249.99 549.18 249.67 550.2 249.42C551.22 249.18 552.25 248.99 553.29 248.89C554.33 248.78 555.38 248.74 556.43 248.79C557.49 248.84 558.56 248.97 559.62 249.19C560.7 249.41 561.78 249.73 562.84 250.13C563.93 250.54 565 251.15 566.08 251.65L570 275L526 275Z" fill="#edb163" stroke="rgba(40,25,10,0.75)" stroke-width="0.5"/>
<path d="M532.54 266.09C533.24 265.11 533.89 264.08 534.65 263.15C535.41 262.22 536.24 261.34 537.12 260.51C537.99 259.7 538.92 258.93 539.88 258.23C540.84 257.54 541.85 256.91 542.88 256.35C543.91 255.8 544.98 255.31 546.07 254.92C547.15 254.52 548.27 254.2 549.39 253.97C550.51 253.74 551.65 253.6 552.79 253.56C553.92 253.52 555.07 253.57 556.2 253.72C557.34 253.88 558.48 254.15 559.58 254.52C560.71 254.89 561.82 255.38 562.88 255.98C563.97 256.59 564.98 257.43 566.03 258.15L570 275L532 275Z" fill="#e39f4f" stroke="rgba(40,25,10,0.75)" stroke-width="0.5"/>
</g>
<text x="455.2" y="166.9" font-size="15" fill="#fff">0.50<tspan font-family="Liberation Serif" font-style="italic" font-size="15.5" dx="0.3">π</tspan></text>
<line x1="451.1" y1="260.7" x2="451.1" y2="265.7" stroke="#cfcfcf" stroke-width="1"/>
<text x="451.1" y="279.5" font-size="10" fill="#000" text-anchor="middle">5</text>
<line x1="443.6" y1="259.1" x2="449.1" y2="259.1" stroke="#cfcfcf" stroke-width="1"/>
<text x="440.5" y="263.2" font-size="10" fill="#000" text-anchor="end">5</text>
<line x1="477.95" y1="260.7" x2="477.95" y2="265.7" stroke="#cfcfcf" stroke-width="1"/>
<text x="477.95" y="279.5" font-size="10" fill="#000" text-anchor="middle">6</text>
<line x1="443.6" y1="232.13" x2="449.1" y2="232.13" stroke="#cfcfcf" stroke-width="1"/>
<text x="440.5" y="236.23" font-size="10" fill="#000" text-anchor="end">6</text>
<line x1="504.8" y1="260.7" x2="504.8" y2="265.7" stroke="#cfcfcf" stroke-width="1"/>
<text x="504.8" y="279.5" font-size="10" fill="#000" text-anchor="middle">7</text>
<line x1="443.6" y1="205.15" x2="449.1" y2="205.15" stroke="#cfcfcf" stroke-width="1"/>
<text x="440.5" y="209.25" font-size="10" fill="#000" text-anchor="end">7</text>
<line x1="531.65" y1="260.7" x2="531.65" y2="265.7" stroke="#cfcfcf" stroke-width="1"/>
<text x="531.65" y="279.5" font-size="10" fill="#000" text-anchor="middle">8</text>
<line x1="443.6" y1="178.18" x2="449.1" y2="178.18" stroke="#cfcfcf" stroke-width="1"/>
<text x="440.5" y="182.28" font-size="10" fill="#000" text-anchor="end">8</text>
<line x1="558.5" y1="260.7" x2="558.5" y2="265.7" stroke="#cfcfcf" stroke-width="1"/>
<text x="558.5" y="279.5" font-size="10" fill="#000" text-anchor="middle">9</text>
<line x1="443.6" y1="151.2" x2="449.1" y2="151.2" stroke="#cfcfcf" stroke-width="1"/>
<text x="440.5" y="155.3" font-size="10" fill="#000" text-anchor="end">9</text>
<rect x="575.4" y="147.4" width="15.8" height="19.23" fill="#fff0c0"/>
<rect x="575.4" y="166.33" width="15.8" height="19.23" fill="#f5c87d"/>
<rect x="575.4" y="185.26" width="15.8" height="19.23" fill="#edb163"/>
<rect x="575.4" y="204.19" width="15.8" height="19.23" fill="#e39f4f"/>
<rect x="575.4" y="223.12" width="15.8" height="19.23" fill="#a78b75"/>
<rect x="575.4" y="242.05" width="15.8" height="19.23" fill="#70769a"/>
<rect x="575.4" y="260.98" width="15.8" height="19.63" fill="#25548c"/>
<line x1="591.2" y1="166.33" x2="596" y2="166.33" stroke="#d9d9d9" stroke-width="1"/>
<line x1="575.4" y1="166.33" x2="591.2" y2="166.33" stroke="rgba(40,25,10,0.75)" stroke-width="0.6"/>
<text x="599.4" y="170.23" font-size="10" fill="#000" letter-spacing="-0.05">0.126</text>
<line x1="591.2" y1="185.26" x2="596" y2="185.26" stroke="#d9d9d9" stroke-width="1"/>
<line x1="575.4" y1="185.26" x2="591.2" y2="185.26" stroke="rgba(40,25,10,0.75)" stroke-width="0.6"/>
<text x="599.4" y="189.16" font-size="10" fill="#000" letter-spacing="-0.05">0.105</text>
<line x1="591.2" y1="204.19" x2="596" y2="204.19" stroke="#d9d9d9" stroke-width="1"/>
<line x1="575.4" y1="204.19" x2="591.2" y2="204.19" stroke="rgba(40,25,10,0.75)" stroke-width="0.6"/>
<text x="599.4" y="208.09" font-size="10" fill="#000" letter-spacing="-0.05">0.084</text>
<line x1="591.2" y1="223.12" x2="596" y2="223.12" stroke="#d9d9d9" stroke-width="1"/>
<line x1="575.4" y1="223.12" x2="591.2" y2="223.12" stroke="rgba(40,25,10,0.75)" stroke-width="0.6"/>
<text x="599.4" y="227.02" font-size="10" fill="#000" letter-spacing="-0.05">0.063</text>
<line x1="591.2" y1="242.05" x2="596" y2="242.05" stroke="#d9d9d9" stroke-width="1"/>
<line x1="575.4" y1="242.05" x2="591.2" y2="242.05" stroke="rgba(40,25,10,0.75)" stroke-width="0.6"/>
<text x="599.4" y="245.95" font-size="10" fill="#000" letter-spacing="-0.05">0.042</text>
<line x1="591.2" y1="260.98" x2="596" y2="260.98" stroke="#d9d9d9" stroke-width="1"/>
<line x1="575.4" y1="260.98" x2="591.2" y2="260.98" stroke="rgba(40,25,10,0.75)" stroke-width="0.6"/>
<text x="599.4" y="264.88" font-size="10" fill="#000" letter-spacing="-0.05">0.021</text>
<text x="505.2" y="298.9" font-size="10.5" fill="#000" text-anchor="middle">log(k<tspan font-size="7.3" dy="1.1">R</tspan><tspan dy="-1.1">)</tspan></text>
</g>
</svg></body></html>
